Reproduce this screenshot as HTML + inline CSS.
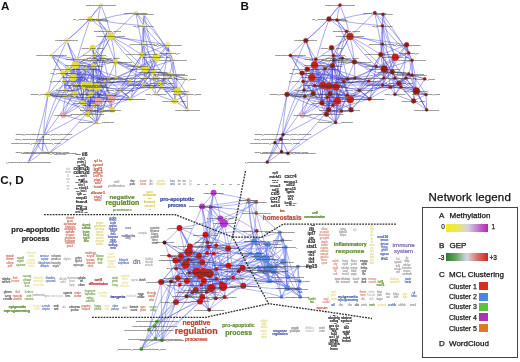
<!DOCTYPE html>
<html><head><meta charset="utf-8"><style>
html,body{margin:0;padding:0;background:#fff;}
body{width:520px;height:362px;position:relative;overflow:hidden;font-family:"Liberation Sans",sans-serif;}
#wrap{position:absolute;left:0;top:0;width:520px;height:362px;opacity:0.999}
div{line-height:1;white-space:nowrap;-webkit-text-stroke:0.25px currentColor}
svg text{font-family:"Liberation Sans",sans-serif;}
</style></head><body><div id="wrap">
<svg width="520" height="362" viewBox="0 0 520 362" style="position:absolute;left:0;top:0;will-change:transform">
<defs><path id="eb" d="M340.0,5.0Q333.6,11.3 329.0,19.0M340.0,5.0Q337.6,12.3 337.0,20.0M340.0,5.0Q346.9,20.1 350.0,36.4M340.0,5.0Q325.0,24.8 305.8,40.6M329.0,19.0Q333.0,19.9 337.0,20.0M329.0,19.0Q337.3,25.7 346.5,31.3M329.0,19.0Q355.6,23.7 382.5,25.8M329.0,19.0Q318.0,30.4 305.8,40.6M329.0,19.0Q321.1,41.8 314.5,65.0M337.0,20.0Q341.6,25.8 346.5,31.3M337.0,20.0Q343.3,28.3 350.0,36.4M337.0,20.0Q355.6,14.5 374.8,12.7M337.0,20.0Q346.1,40.8 354.4,61.9M346.5,31.3Q348.3,33.8 350.0,36.4M346.5,31.3Q339.2,43.0 333.5,55.5M346.5,31.3Q337.1,47.6 332.5,65.8M346.5,31.3Q337.8,58.4 336.0,86.9M350.0,36.4Q362.5,24.7 374.8,12.7M350.0,36.4Q333.1,48.1 315.8,59.2M350.0,36.4Q353.0,49.0 354.4,61.9M350.0,36.4Q343.5,49.4 333.8,60.3M350.0,36.4Q366.8,38.0 382.5,44.0M350.0,36.4Q378.3,40.3 406.6,44.8M350.0,36.4Q365.9,44.7 380.8,54.6M350.0,36.4Q367.7,52.1 384.3,69.0M350.0,36.4Q361.4,52.8 376.1,66.3M350.0,36.4Q336.3,60.7 323.0,85.2M374.8,12.7Q378.9,13.6 383.0,14.4M374.8,12.7Q379.1,19.0 382.5,25.8M374.8,12.7Q394.4,30.5 408.7,52.9M374.8,12.7Q380.9,40.6 384.3,69.0M383.0,14.4Q383.3,20.1 382.5,25.8M383.0,14.4Q395.8,33.7 408.7,52.9M383.0,14.4Q386.2,36.7 395.3,57.2M383.0,14.4Q380.9,34.4 380.8,54.6M382.5,25.8Q383.3,34.9 382.5,44.0M382.5,25.8Q394.1,40.8 408.7,52.9M382.5,25.8Q387.6,42.0 395.3,57.2M382.5,25.8Q382.0,47.5 384.3,69.0M382.5,25.8Q385.7,52.6 394.9,78.0M305.8,40.6Q297.6,47.4 290.4,55.4M305.8,40.6Q310.0,50.3 315.8,59.2M305.8,40.6Q310.6,52.6 314.5,65.0M305.8,40.6Q292.8,66.3 287.0,94.5M305.8,40.6Q314.4,68.8 329.9,93.8M290.4,55.4Q303.3,56.1 315.8,59.2M290.4,55.4Q298.3,62.9 307.2,69.3M290.4,55.4Q295.7,64.6 302.0,73.1M290.4,55.4Q311.5,60.4 332.5,65.8M290.4,55.4Q313.1,71.3 336.0,86.9M290.4,55.4Q301.9,74.5 313.3,93.7M331.5,47.7Q332.0,51.7 333.5,55.5M331.5,47.7Q336.9,53.0 342.3,58.2M331.5,47.7Q332.1,54.1 333.8,60.3M331.5,47.7Q334.6,67.2 336.0,86.9M331.5,47.7Q338.1,74.6 350.3,99.5M333.5,55.5Q323.5,59.2 314.5,65.0M333.5,55.5Q329.3,62.1 325.0,68.7M333.5,55.5Q337.9,56.9 342.3,58.2M333.5,55.5Q333.4,57.9 333.8,60.3M333.5,55.5Q358.5,63.8 384.3,69.0M333.5,55.5Q331.3,70.8 329.0,86.0M333.5,55.5Q337.2,78.2 337.3,101.1M333.5,55.5Q332.4,82.8 328.7,109.8M315.8,59.2Q315.0,62.1 314.5,65.0M315.8,59.2Q312.0,64.7 307.2,69.3M315.8,59.2Q312.9,68.1 312.0,77.5M315.8,59.2Q320.7,63.7 325.0,68.7M315.8,59.2Q323.8,63.5 332.5,65.8M315.8,59.2Q320.1,80.9 322.0,102.9M315.8,59.2Q321.4,83.2 332.8,105.1M314.5,65.0Q310.7,66.9 307.2,69.3M314.5,65.0Q308.2,69.0 302.0,73.1M314.5,65.0Q313.2,71.2 312.0,77.5M314.5,65.0Q319.7,67.1 325.0,68.7M314.5,65.0Q323.5,65.6 332.5,65.8M314.5,65.0Q328.2,60.9 342.3,58.2M314.5,65.0Q342.3,70.8 368.8,81.0M314.5,65.0Q329.1,73.4 343.7,81.7M314.5,65.0Q317.5,75.6 323.0,85.2M314.5,65.0Q308.8,77.4 304.0,90.1M314.5,65.0Q320.5,83.5 322.0,102.9M314.5,65.0Q330.7,89.0 351.0,109.8M314.5,65.0Q318.9,90.0 326.4,114.3M307.2,69.3Q304.4,70.9 302.0,73.1M307.2,69.3Q310.0,73.2 312.0,77.5M307.2,69.3Q316.1,69.6 325.0,68.7M307.2,69.3Q326.2,73.2 343.7,81.7M307.2,69.3Q317.7,78.1 329.0,86.0M307.2,69.3Q322.2,77.2 336.0,86.9M307.2,69.3Q298.1,82.7 287.0,94.5M307.2,69.3Q304.5,79.5 304.0,90.1M307.2,69.3Q319.9,80.3 329.9,93.8M302.0,73.1Q307.0,75.3 312.0,77.5M302.0,73.1Q302.2,77.3 303.2,81.3M302.0,73.1Q328.7,73.7 355.0,78.0M302.0,73.1Q325.0,74.1 347.5,78.8M302.0,73.1Q329.7,84.8 359.3,90.4M302.0,73.1Q315.6,79.3 329.0,86.0M302.0,73.1Q308.0,79.7 314.8,85.5M302.0,73.1Q304.1,81.5 304.0,90.1M312.0,77.5Q318.3,72.8 325.0,68.7M312.0,77.5Q329.8,76.5 347.5,78.8M312.0,77.5Q317.3,81.6 323.0,85.2M312.0,77.5Q313.9,81.3 314.8,85.5M312.0,77.5Q311.6,85.7 313.3,93.7M312.0,77.5Q309.6,87.4 304.7,96.3M312.0,77.5Q320.4,86.2 329.9,93.8M312.0,77.5Q330.8,84.0 347.2,95.2M312.0,77.5Q317.9,89.9 322.0,102.9M312.0,77.5Q325.3,95.6 341.5,111.1M303.2,81.3Q328.9,77.2 355.0,78.0M303.2,81.3Q309.2,82.9 314.8,85.5M303.2,81.3Q303.4,85.7 304.0,90.1M303.2,81.3Q316.4,95.1 328.7,109.8M303.2,81.3Q316.9,96.3 326.4,114.3M303.2,81.3Q289.4,106.6 283.0,134.6M325.0,68.7Q328.6,66.9 332.5,65.8M325.0,68.7Q333.0,62.3 342.3,58.2M325.0,68.7Q339.6,64.7 354.4,61.9M325.0,68.7Q329.5,64.6 333.8,60.3M325.0,68.7Q323.4,76.9 323.0,85.2M325.0,68.7Q331.5,77.2 336.0,86.9M325.0,68.7Q320.3,77.3 314.8,85.5M325.0,68.7Q307.7,84.1 287.0,94.5M325.0,68.7Q319.3,81.3 313.3,93.7M325.0,68.7Q322.2,85.7 322.0,102.9M332.5,65.8Q337.7,62.3 342.3,58.2M332.5,65.8Q333.5,63.1 333.8,60.3M332.5,65.8Q350.1,83.6 370.0,98.7M332.5,65.8Q339.3,73.1 347.5,78.8M332.5,65.8Q337.6,74.1 343.7,81.7M332.5,65.8Q327.8,75.5 323.0,85.2M332.5,65.8Q331.5,76.0 329.0,86.0M332.5,65.8Q323.2,75.3 314.8,85.5M332.5,65.8Q318.9,78.7 304.0,90.1M332.5,65.8Q333.1,88.0 328.7,109.8M332.5,65.8Q342.1,87.7 351.0,109.8M332.5,65.8Q331.1,94.3 335.6,122.4M342.3,58.2Q348.5,59.4 354.4,61.9M342.3,58.2Q338.0,59.1 333.8,60.3M342.3,58.2Q359.3,61.7 376.1,66.3M342.3,58.2Q344.9,68.5 347.5,78.8M342.3,58.2Q340.6,72.9 336.0,86.9M342.3,58.2Q337.0,79.3 337.3,101.1M354.4,61.9Q344.0,61.8 333.8,60.3M354.4,61.9Q369.2,65.9 384.3,69.0M354.4,61.9Q376.9,72.2 399.0,83.5M354.4,61.9Q374.2,72.1 390.5,87.2M354.4,61.9Q354.6,70.0 355.0,78.0M354.4,61.9Q345.8,84.6 332.8,105.1M333.8,60.3Q325.6,78.3 313.3,93.7M333.8,60.3Q344.6,78.8 350.3,99.5M333.8,60.3Q332.7,87.7 326.4,114.3M382.5,44.0Q398.2,50.5 412.0,60.3M382.5,44.0Q381.4,49.3 380.8,54.6M382.5,44.0Q386.5,65.6 390.5,87.2M382.5,44.0Q396.3,69.8 416.4,91.0M406.6,44.8Q407.2,49.0 408.7,52.9M406.6,44.8Q408.2,52.9 412.0,60.3M406.6,44.8Q401.4,51.4 395.3,57.2M406.6,44.8Q393.8,49.9 380.8,54.6M406.6,44.8Q405.3,66.0 401.0,86.9M406.6,44.8Q394.0,64.5 382.5,84.9M406.6,44.8Q410.7,68.1 416.4,91.0M408.7,52.9Q410.0,56.7 412.0,60.3M408.7,52.9Q401.9,54.7 395.3,57.2M408.7,52.9Q402.7,65.9 394.9,78.0M408.7,52.9Q382.1,66.0 355.0,78.0M412.0,60.3Q398.1,64.5 384.3,69.0M412.0,60.3Q411.3,67.3 408.7,73.9M412.0,60.3Q416.2,75.4 416.4,91.0M412.0,60.3Q413.3,80.6 413.6,101.0M395.3,57.2Q387.9,56.7 380.8,54.6M395.3,57.2Q393.3,64.5 392.3,72.0M395.3,57.2Q390.3,68.0 383.8,78.0M395.3,57.2Q383.4,70.6 368.8,81.0M395.3,57.2Q370.6,71.7 343.7,81.7M395.3,57.2Q383.7,79.1 369.0,99.0M380.8,54.6Q378.9,60.6 376.1,66.3M380.8,54.6Q386.5,63.3 392.3,72.0M380.8,54.6Q382.4,66.3 383.8,78.0M380.8,54.6Q390.7,68.6 399.0,83.5M380.8,54.6Q369.3,72.1 359.3,90.4M380.8,54.6Q367.4,78.3 350.3,99.5M384.3,69.0Q380.4,67.2 376.1,66.3M384.3,69.0Q388.1,71.0 392.3,72.0M384.3,69.0Q396.3,72.2 408.7,73.9M384.3,69.0Q384.1,73.5 383.8,78.0M384.3,69.0Q405.1,81.9 426.0,94.6M384.3,69.0Q398.6,85.3 413.6,101.0M384.3,69.0Q369.2,86.4 350.3,99.5M376.1,66.3Q373.4,82.6 370.0,98.7M392.3,72.0Q400.5,73.0 408.7,73.9M392.3,72.0Q408.8,74.0 424.7,78.8M392.3,72.0Q393.9,74.9 394.9,78.0M392.3,72.0Q392.7,83.3 395.0,94.3M392.3,72.0Q370.0,76.2 347.5,78.8M392.3,72.0Q364.1,79.3 336.0,86.9M392.3,72.0Q369.4,88.5 351.0,109.8M392.3,72.0Q380.2,85.1 369.0,99.0M408.7,73.9Q410.4,74.5 412.0,75.2M408.7,73.9Q407.1,75.8 406.0,78.0M408.7,73.9Q404.0,78.9 399.0,83.5M408.7,73.9Q400.5,81.8 390.5,87.2M408.7,73.9Q416.7,92.3 426.6,109.8M412.0,75.2Q409.2,76.9 406.0,78.0M412.0,75.2Q418.4,76.7 424.7,78.8M412.0,75.2Q405.1,78.7 399.0,83.5M412.0,75.2Q406.2,80.8 401.0,86.9M412.0,75.2Q420.3,84.0 426.0,94.6M406.0,78.0Q402.5,80.8 399.0,83.5M406.0,78.0Q398.4,82.8 390.5,87.2M406.0,78.0Q400.5,86.2 395.0,94.3M406.0,78.0Q417.6,93.1 426.6,109.8M406.0,78.0Q377.9,88.1 350.3,99.5M424.7,78.8Q421.3,85.4 416.4,91.0M383.8,78.0Q383.4,81.5 382.5,84.9M383.8,78.0Q371.8,84.6 359.3,90.4M383.8,78.0Q365.5,91.9 351.0,109.8M394.9,78.0Q397.3,80.5 399.0,83.5M394.9,78.0Q388.5,81.0 382.5,84.9M394.9,78.0Q406.2,83.6 416.4,91.0M394.9,78.0Q404.0,89.7 413.6,101.0M399.0,83.5Q400.1,85.2 401.0,86.9M399.0,83.5Q407.7,87.2 416.4,91.0M399.0,83.5Q383.4,90.2 369.0,99.0M401.0,86.9Q408.8,88.7 416.4,91.0M401.0,86.9Q398.4,90.9 395.0,94.3M382.5,84.9Q386.6,85.6 390.5,87.2M382.5,84.9Q399.8,86.0 416.4,91.0M382.5,84.9Q363.3,81.4 343.7,81.7M382.5,84.9Q355.7,84.4 329.0,86.0M390.5,87.2Q392.3,91.0 395.0,94.3M390.5,87.2Q367.2,83.2 343.7,81.7M390.5,87.2Q363.2,90.7 336.0,86.9M416.4,91.0Q421.1,93.0 426.0,94.6M416.4,91.0Q414.6,95.9 413.6,101.0M416.4,91.0Q420.9,100.7 426.6,109.8M426.0,94.6Q419.8,97.8 413.6,101.0M426.0,94.6Q426.6,102.2 426.6,109.8M426.0,94.6Q397.3,88.1 368.8,81.0M395.0,94.3Q404.0,98.4 413.6,101.0M413.6,101.0Q420.4,105.0 426.6,109.8M370.0,98.7Q364.7,94.5 359.3,90.4M370.0,98.7Q346.5,92.1 323.0,85.2M370.0,98.7Q350.3,93.7 329.9,93.8M370.0,98.7Q347.5,104.6 326.4,114.3M370.0,98.7Q369.5,98.8 369.0,99.0M355.0,78.0Q351.2,78.0 347.5,78.8M355.0,78.0Q362.0,79.1 368.8,81.0M355.0,78.0Q349.5,80.3 343.7,81.7M355.0,78.0Q346.2,89.6 337.3,101.1M347.5,78.8Q345.7,80.4 343.7,81.7M347.5,78.8Q335.3,82.2 323.0,85.2M347.5,78.8Q338.1,81.9 329.0,86.0M347.5,78.8Q341.3,82.2 336.0,86.9M368.8,81.0Q363.9,85.6 359.3,90.4M368.8,81.0Q348.7,81.7 329.0,86.0M368.8,81.0Q360.6,91.3 350.3,99.5M359.3,90.4Q348.5,96.2 337.3,101.1M359.3,90.4Q354.2,94.3 350.3,99.5M359.3,90.4Q364.6,94.2 369.0,99.0M343.7,81.7Q336.4,84.0 329.0,86.0M343.7,81.7Q340.2,84.8 336.0,86.9M343.7,81.7Q316.1,91.4 287.0,94.5M343.7,81.7Q339.4,91.0 337.3,101.1M343.7,81.7Q345.8,91.1 350.3,99.5M323.0,85.2Q326.0,85.7 329.0,86.0M323.0,85.2Q318.9,85.8 314.8,85.5M323.0,85.2Q318.4,89.7 313.3,93.7M323.0,85.2Q314.3,91.4 304.7,96.3M323.0,85.2Q326.2,89.7 329.9,93.8M323.0,85.2Q324.8,91.4 327.3,97.3M323.0,85.2Q330.3,93.0 337.3,101.1M323.0,85.2Q322.4,94.0 322.0,102.9M323.0,85.2Q327.2,97.2 328.7,109.8M329.0,86.0Q332.5,86.5 336.0,86.9M329.0,86.0Q329.0,90.0 329.9,93.8M329.0,86.0Q337.8,91.3 347.2,95.2M329.0,86.0Q326.5,94.8 322.0,102.9M329.0,86.0Q330.9,95.6 332.8,105.1M329.0,86.0Q314.8,99.8 302.3,115.2M336.0,86.9Q325.4,86.9 314.8,85.5M336.0,86.9Q332.6,90.0 329.9,93.8M336.0,86.9Q331.7,92.1 327.3,97.3M336.0,86.9Q341.4,91.4 347.2,95.2M336.0,86.9Q336.8,94.0 337.3,101.1M336.0,86.9Q342.3,94.2 350.3,99.5M336.0,86.9Q328.4,94.3 322.0,102.9M336.0,86.9Q334.2,96.0 332.8,105.1M336.0,86.9Q340.0,98.7 341.5,111.1M336.0,86.9Q331.4,100.7 326.4,114.3M336.0,86.9Q338.1,104.7 335.6,122.4M314.8,85.5Q309.3,87.7 304.0,90.1M314.8,85.5Q313.6,89.5 313.3,93.7M314.8,85.5Q333.2,90.9 350.3,99.5M314.8,85.5Q318.4,94.2 322.0,102.9M314.8,85.5Q308.6,100.4 302.3,115.2M287.0,94.5Q295.4,92.1 304.0,90.1M287.0,94.5Q295.8,95.9 304.7,96.3M287.0,94.5Q308.5,96.8 329.9,93.8M287.0,94.5Q312.0,99.2 337.3,101.1M287.0,94.5Q304.5,98.6 322.0,102.9M287.0,94.5Q306.9,104.8 328.7,109.8M287.0,94.5Q282.1,118.9 275.0,142.7M287.0,94.5Q282.3,122.9 281.5,151.7M304.0,90.1Q304.2,93.2 304.7,96.3M304.0,90.1Q326.8,96.5 350.3,99.5M304.0,90.1Q291.3,111.3 283.0,134.6M313.3,93.7Q309.1,95.3 304.7,96.3M313.3,93.7Q317.5,98.4 322.0,102.9M313.3,93.7Q297.7,116.9 280.8,139.2M304.7,96.3Q319.5,110.1 335.6,122.4M304.7,96.3Q302.2,105.6 302.3,115.2M329.9,93.8Q328.5,95.5 327.3,97.3M329.9,93.8Q338.6,93.3 347.2,95.2M329.9,93.8Q333.6,97.4 337.3,101.1M329.9,93.8Q339.9,97.3 350.3,99.5M329.9,93.8Q325.5,97.9 322.0,102.9M329.9,93.8Q329.0,101.8 328.7,109.8M329.9,93.8Q334.9,103.0 341.5,111.1M329.9,93.8Q329.5,104.3 326.4,114.3M327.3,97.3Q324.3,99.8 322.0,102.9M327.3,97.3Q327.6,103.6 328.7,109.8M327.3,97.3Q334.2,104.4 341.5,111.1M327.3,97.3Q325.9,105.7 326.4,114.3M327.3,97.3Q313.8,104.9 302.3,115.2M347.2,95.2Q342.6,98.7 337.3,101.1M347.2,95.2Q348.6,97.5 350.3,99.5M347.2,95.2Q343.8,102.9 341.5,111.1M347.2,95.2Q349.7,102.3 351.0,109.8M347.2,95.2Q336.1,104.0 326.4,114.3M347.2,95.2Q341.1,108.7 335.6,122.4M337.3,101.1Q329.7,102.7 322.0,102.9M337.3,101.1Q334.9,102.9 332.8,105.1M337.3,101.1Q333.4,105.9 328.7,109.8M337.3,101.1Q339.2,106.2 341.5,111.1M337.3,101.1Q344.2,105.3 351.0,109.8M337.3,101.1Q337.2,111.8 335.6,122.4M350.3,99.5Q341.5,102.1 332.8,105.1M350.3,99.5Q350.7,104.6 351.0,109.8M350.3,99.5Q359.6,98.5 369.0,99.0M322.0,102.9Q324.9,106.8 328.7,109.8M322.0,102.9Q332.2,105.8 341.5,111.1M322.0,102.9Q313.0,110.4 302.3,115.2M332.8,105.1Q330.8,107.5 328.7,109.8M332.8,105.1Q336.9,108.5 341.5,111.1M332.8,105.1Q329.4,109.6 326.4,114.3M328.7,109.8Q335.1,110.9 341.5,111.1M328.7,109.8Q327.6,112.1 326.4,114.3M328.7,109.8Q331.8,116.3 335.6,122.4M328.7,109.8Q306.4,123.3 283.0,134.6M328.7,109.8Q309.7,132.9 287.9,153.3M341.5,111.1Q346.3,110.5 351.0,109.8M341.5,111.1Q334.2,113.7 326.4,114.3M341.5,111.1Q339.2,117.1 335.6,122.4M326.4,114.3Q330.7,118.7 335.6,122.4M335.6,122.4Q318.6,120.3 302.3,115.2M335.6,122.4Q310.7,136.2 287.9,153.3M283.0,134.6Q281.7,136.8 280.8,139.2M283.0,134.6Q279.1,138.8 275.0,142.7M283.0,134.6Q281.8,143.1 281.5,151.7M283.0,134.6Q274.0,147.7 267.3,162.0M280.8,139.2Q277.7,140.7 275.0,142.7M280.8,139.2Q285.1,145.9 287.9,153.3M280.8,139.2Q275.1,151.2 267.3,162.0M275.0,142.7Q278.4,147.1 281.5,151.7M275.0,142.7Q271.2,152.4 267.3,162.0M281.5,151.7Q284.7,152.3 287.9,153.3M281.5,151.7Q275.1,157.8 267.3,162.0"/></defs>
<g fill="none" stroke="#4a4ad8" stroke-width="0.55" stroke-opacity="0.85"><use href="#eb"/><use href="#eb" transform="translate(-239,0)"/></g>
<g stroke-width="0.4"><circle cx="340.0" cy="5.0" r="1.58" fill="#901c12" stroke="#c03a26"/><circle cx="329.0" cy="19.0" r="2.46" fill="#901c12" stroke="#c03a26"/><circle cx="337.0" cy="20.0" r="1.58" fill="#901c12" stroke="#c03a26"/><circle cx="346.5" cy="31.3" r="1.58" fill="#901c12" stroke="#c03a26"/><circle cx="350.0" cy="36.4" r="3.52" fill="#c42418" stroke="#c03a26"/><circle cx="374.8" cy="12.7" r="1.58" fill="#901c12" stroke="#c03a26"/><circle cx="383.0" cy="14.4" r="1.58" fill="#901c12" stroke="#c03a26"/><circle cx="382.5" cy="25.8" r="1.58" fill="#901c12" stroke="#c03a26"/><circle cx="305.8" cy="40.6" r="2.46" fill="#901c12" stroke="#c03a26"/><circle cx="290.4" cy="55.4" r="1.58" fill="#901c12" stroke="#c03a26"/><circle cx="331.5" cy="47.7" r="2.46" fill="#901c12" stroke="#c03a26"/><circle cx="333.5" cy="55.5" r="1.58" fill="#901c12" stroke="#c03a26"/><circle cx="315.8" cy="59.2" r="1.58" fill="#901c12" stroke="#c03a26"/><circle cx="314.5" cy="65.0" r="3.52" fill="#c42418" stroke="#c03a26"/><circle cx="307.2" cy="69.3" r="2.46" fill="#901c12" stroke="#c03a26"/><circle cx="302.0" cy="73.1" r="2.46" fill="#901c12" stroke="#c03a26"/><circle cx="312.0" cy="77.5" r="3.52" fill="#c42418" stroke="#c03a26"/><circle cx="303.2" cy="81.3" r="1.58" fill="#901c12" stroke="#c03a26"/><circle cx="325.0" cy="68.7" r="1.58" fill="#901c12" stroke="#c03a26"/><circle cx="332.5" cy="65.8" r="2.46" fill="#901c12" stroke="#c03a26"/><circle cx="342.3" cy="58.2" r="1.58" fill="#901c12" stroke="#c03a26"/><circle cx="354.4" cy="61.9" r="2.46" fill="#901c12" stroke="#c03a26"/><circle cx="333.8" cy="60.3" r="1.58" fill="#901c12" stroke="#c03a26"/><circle cx="382.5" cy="44.0" r="1.58" fill="#901c12" stroke="#c03a26"/><circle cx="406.6" cy="44.8" r="2.46" fill="#901c12" stroke="#c03a26"/><circle cx="408.7" cy="52.9" r="1.58" fill="#901c12" stroke="#c03a26"/><circle cx="412.0" cy="60.3" r="1.58" fill="#901c12" stroke="#c03a26"/><circle cx="395.3" cy="57.2" r="3.52" fill="#c42418" stroke="#c03a26"/><circle cx="380.8" cy="54.6" r="2.46" fill="#901c12" stroke="#c03a26"/><circle cx="384.3" cy="69.0" r="3.52" fill="#901c12" stroke="#c03a26"/><circle cx="376.1" cy="66.3" r="1.58" fill="#901c12" stroke="#c03a26"/><circle cx="392.3" cy="72.0" r="2.46" fill="#901c12" stroke="#c03a26"/><circle cx="408.7" cy="73.9" r="1.58" fill="#901c12" stroke="#c03a26"/><circle cx="412.0" cy="75.2" r="1.58" fill="#901c12" stroke="#c03a26"/><circle cx="406.0" cy="78.0" r="1.58" fill="#901c12" stroke="#c03a26"/><circle cx="424.7" cy="78.8" r="1.58" fill="#901c12" stroke="#c03a26"/><circle cx="383.8" cy="78.0" r="1.58" fill="#901c12" stroke="#c03a26"/><circle cx="394.9" cy="78.0" r="1.58" fill="#901c12" stroke="#c03a26"/><circle cx="399.0" cy="83.5" r="2.46" fill="#901c12" stroke="#c03a26"/><circle cx="401.0" cy="86.9" r="1.58" fill="#901c12" stroke="#c03a26"/><circle cx="382.5" cy="84.9" r="1.58" fill="#901c12" stroke="#c03a26"/><circle cx="390.5" cy="87.2" r="1.58" fill="#901c12" stroke="#c03a26"/><circle cx="416.4" cy="91.0" r="3.52" fill="#901c12" stroke="#c03a26"/><circle cx="426.0" cy="94.6" r="1.58" fill="#901c12" stroke="#c03a26"/><circle cx="395.0" cy="94.3" r="1.58" fill="#901c12" stroke="#c03a26"/><circle cx="413.6" cy="101.0" r="2.46" fill="#901c12" stroke="#c03a26"/><circle cx="426.6" cy="109.8" r="1.58" fill="#901c12" stroke="#c03a26"/><circle cx="370.0" cy="98.7" r="1.58" fill="#901c12" stroke="#c03a26"/><circle cx="355.0" cy="78.0" r="1.58" fill="#901c12" stroke="#c03a26"/><circle cx="347.5" cy="78.8" r="1.58" fill="#901c12" stroke="#c03a26"/><circle cx="368.8" cy="81.0" r="1.58" fill="#901c12" stroke="#c03a26"/><circle cx="359.3" cy="90.4" r="1.58" fill="#901c12" stroke="#c03a26"/><circle cx="343.7" cy="81.7" r="1.58" fill="#901c12" stroke="#c03a26"/><circle cx="323.0" cy="85.2" r="3.52" fill="#c42418" stroke="#c03a26"/><circle cx="329.0" cy="86.0" r="3.52" fill="#c42418" stroke="#c03a26"/><circle cx="336.0" cy="86.9" r="3.52" fill="#c42418" stroke="#c03a26"/><circle cx="314.8" cy="85.5" r="1.58" fill="#901c12" stroke="#c03a26"/><circle cx="287.0" cy="94.5" r="2.46" fill="#901c12" stroke="#c03a26"/><circle cx="304.0" cy="90.1" r="1.58" fill="#901c12" stroke="#c03a26"/><circle cx="313.3" cy="93.7" r="2.46" fill="#901c12" stroke="#c03a26"/><circle cx="304.7" cy="96.3" r="1.58" fill="#901c12" stroke="#c03a26"/><circle cx="329.9" cy="93.8" r="2.46" fill="#901c12" stroke="#c03a26"/><circle cx="327.3" cy="97.3" r="1.58" fill="#901c12" stroke="#c03a26"/><circle cx="347.2" cy="95.2" r="1.58" fill="#901c12" stroke="#c03a26"/><circle cx="337.3" cy="101.1" r="3.52" fill="#c42418" stroke="#c03a26"/><circle cx="350.3" cy="99.5" r="3.52" fill="#c42418" stroke="#c03a26"/><circle cx="322.0" cy="102.9" r="2.46" fill="#901c12" stroke="#c03a26"/><circle cx="332.8" cy="105.1" r="1.58" fill="#901c12" stroke="#c03a26"/><circle cx="328.7" cy="109.8" r="2.46" fill="#901c12" stroke="#c03a26"/><circle cx="341.5" cy="111.1" r="1.58" fill="#901c12" stroke="#c03a26"/><circle cx="351.0" cy="109.8" r="2.46" fill="#901c12" stroke="#c03a26"/><circle cx="326.4" cy="114.3" r="2.46" fill="#901c12" stroke="#c03a26"/><circle cx="335.6" cy="122.4" r="1.58" fill="#901c12" stroke="#c03a26"/><circle cx="369.0" cy="99.0" r="1.58" fill="#901c12" stroke="#c03a26"/><circle cx="302.3" cy="115.2" r="2.46" fill="#e8b4b0" stroke="#d06060"/><circle cx="283.0" cy="134.6" r="1.58" fill="#5a1c14" stroke="#c03a26"/><circle cx="280.8" cy="139.2" r="1.58" fill="#5a1c14" stroke="#c03a26"/><circle cx="275.0" cy="142.7" r="1.58" fill="#5a1c14" stroke="#c03a26"/><circle cx="281.5" cy="151.7" r="1.58" fill="#5a1c14" stroke="#c03a26"/><circle cx="287.9" cy="153.3" r="1.58" fill="#5a1c14" stroke="#c03a26"/><circle cx="267.3" cy="162.0" r="1.58" fill="#5a1c14" stroke="#c03a26"/></g><g stroke-width="0.4" fill-opacity="0.95"><circle cx="101.0" cy="5.0" r="1.66" fill="#ecea9c" stroke="#e0dc80"/><circle cx="90.0" cy="19.0" r="2.58" fill="#e6e030" stroke="#d8cc40"/><circle cx="98.0" cy="20.0" r="1.66" fill="#e6e030" stroke="#d8cc40"/><circle cx="107.5" cy="31.3" r="1.66" fill="#ecea9c" stroke="#e0dc80"/><circle cx="111.0" cy="36.4" r="3.68" fill="#e6e030" stroke="#d8cc40"/><circle cx="135.8" cy="12.7" r="1.66" fill="#ecea9c" stroke="#e0dc80"/><circle cx="144.0" cy="14.4" r="1.66" fill="#ecea9c" stroke="#e0dc80"/><circle cx="143.5" cy="25.8" r="1.66" fill="#ecea9c" stroke="#e0dc80"/><circle cx="66.8" cy="40.6" r="2.58" fill="#ecea9c" stroke="#e0dc80"/><circle cx="51.4" cy="55.4" r="1.66" fill="#ecea9c" stroke="#e0dc80"/><circle cx="92.5" cy="47.7" r="2.58" fill="#e6e030" stroke="#d8cc40"/><circle cx="94.5" cy="55.5" r="1.66" fill="#e6e030" stroke="#d8cc40"/><circle cx="76.8" cy="59.2" r="1.66" fill="#ecea9c" stroke="#e0dc80"/><circle cx="75.5" cy="65.0" r="3.68" fill="#e6e030" stroke="#d8cc40"/><circle cx="68.2" cy="69.3" r="2.58" fill="#e6e030" stroke="#d8cc40"/><circle cx="63.0" cy="73.1" r="2.58" fill="#e6e030" stroke="#d8cc40"/><circle cx="73.0" cy="77.5" r="3.68" fill="#e6e030" stroke="#d8cc40"/><circle cx="64.2" cy="81.3" r="1.66" fill="#e6e030" stroke="#d8cc40"/><circle cx="86.0" cy="68.7" r="1.66" fill="#e6e030" stroke="#d8cc40"/><circle cx="93.5" cy="65.8" r="2.58" fill="#e6e030" stroke="#d8cc40"/><circle cx="103.3" cy="58.2" r="1.66" fill="#e6e030" stroke="#d8cc40"/><circle cx="115.4" cy="61.9" r="2.58" fill="#e6e030" stroke="#d8cc40"/><circle cx="94.8" cy="60.3" r="1.66" fill="#e6e030" stroke="#d8cc40"/><circle cx="143.5" cy="44.0" r="1.66" fill="#ecea9c" stroke="#e0dc80"/><circle cx="167.6" cy="44.8" r="2.58" fill="#ecea9c" stroke="#e0dc80"/><circle cx="169.7" cy="52.9" r="1.66" fill="#ecea9c" stroke="#e0dc80"/><circle cx="173.0" cy="60.3" r="1.66" fill="#ecea9c" stroke="#e0dc80"/><circle cx="156.3" cy="57.2" r="3.68" fill="#e6e030" stroke="#d8cc40"/><circle cx="141.8" cy="54.6" r="2.58" fill="#e6e030" stroke="#d8cc40"/><circle cx="145.3" cy="69.0" r="3.68" fill="#e6e030" stroke="#d8cc40"/><circle cx="137.1" cy="66.3" r="1.66" fill="#e6e030" stroke="#d8cc40"/><circle cx="153.3" cy="72.0" r="2.58" fill="#e6e030" stroke="#d8cc40"/><circle cx="169.7" cy="73.9" r="1.66" fill="#e6e030" stroke="#d8cc40"/><circle cx="173.0" cy="75.2" r="1.66" fill="#ecea9c" stroke="#e0dc80"/><circle cx="167.0" cy="78.0" r="1.66" fill="#ecea9c" stroke="#e0dc80"/><circle cx="185.7" cy="78.8" r="1.66" fill="#ecea9c" stroke="#e0dc80"/><circle cx="144.8" cy="78.0" r="1.66" fill="#e6e030" stroke="#d8cc40"/><circle cx="155.9" cy="78.0" r="1.66" fill="#e6e030" stroke="#d8cc40"/><circle cx="160.0" cy="83.5" r="2.58" fill="#e6e030" stroke="#d8cc40"/><circle cx="162.0" cy="86.9" r="1.66" fill="#e6e030" stroke="#d8cc40"/><circle cx="143.5" cy="84.9" r="1.66" fill="#e6e030" stroke="#d8cc40"/><circle cx="151.5" cy="87.2" r="1.66" fill="#e6e030" stroke="#d8cc40"/><circle cx="177.4" cy="91.0" r="3.68" fill="#e6e030" stroke="#d8cc40"/><circle cx="187.0" cy="94.6" r="1.66" fill="#ecea9c" stroke="#e0dc80"/><circle cx="156.0" cy="94.3" r="1.66" fill="#ecea9c" stroke="#e0dc80"/><circle cx="174.6" cy="101.0" r="2.58" fill="#e6e030" stroke="#d8cc40"/><circle cx="187.6" cy="109.8" r="1.66" fill="#ecea9c" stroke="#e0dc80"/><circle cx="131.0" cy="98.7" r="1.66" fill="#ecea9c" stroke="#e0dc80"/><circle cx="116.0" cy="78.0" r="1.66" fill="#e6e030" stroke="#d8cc40"/><circle cx="108.5" cy="78.8" r="1.66" fill="#e6e030" stroke="#d8cc40"/><circle cx="129.8" cy="81.0" r="1.66" fill="#e6e030" stroke="#d8cc40"/><circle cx="120.3" cy="90.4" r="1.66" fill="#e6e030" stroke="#d8cc40"/><circle cx="104.7" cy="81.7" r="1.66" fill="#e6e030" stroke="#d8cc40"/><circle cx="84.0" cy="85.2" r="3.68" fill="#e6e030" stroke="#d8cc40"/><circle cx="90.0" cy="86.0" r="3.68" fill="#e6e030" stroke="#d8cc40"/><circle cx="97.0" cy="86.9" r="3.68" fill="#e6e030" stroke="#d8cc40"/><circle cx="75.8" cy="85.5" r="1.66" fill="#e6e030" stroke="#d8cc40"/><circle cx="48.0" cy="94.5" r="2.58" fill="#e6e030" stroke="#d8cc40"/><circle cx="65.0" cy="90.1" r="1.66" fill="#e6e030" stroke="#d8cc40"/><circle cx="74.3" cy="93.7" r="2.58" fill="#e6e030" stroke="#d8cc40"/><circle cx="65.7" cy="96.3" r="1.66" fill="#e6e030" stroke="#d8cc40"/><circle cx="90.9" cy="93.8" r="2.58" fill="#e6e030" stroke="#d8cc40"/><circle cx="88.3" cy="97.3" r="1.66" fill="#e6e030" stroke="#d8cc40"/><circle cx="108.2" cy="95.2" r="1.66" fill="#e6e030" stroke="#d8cc40"/><circle cx="98.3" cy="101.1" r="3.68" fill="#eaa8a0" stroke="#e09090"/><circle cx="111.3" cy="99.5" r="3.68" fill="#eaa8a0" stroke="#e09090"/><circle cx="83.0" cy="102.9" r="2.58" fill="#e6e030" stroke="#d8cc40"/><circle cx="93.8" cy="105.1" r="1.66" fill="#e6e030" stroke="#d8cc40"/><circle cx="89.7" cy="109.8" r="2.58" fill="#eaa8a0" stroke="#e09090"/><circle cx="102.5" cy="111.1" r="1.66" fill="#e6e030" stroke="#d8cc40"/><circle cx="112.0" cy="109.8" r="2.58" fill="#e6e030" stroke="#d8cc40"/><circle cx="87.4" cy="114.3" r="2.58" fill="#e6e030" stroke="#d8cc40"/><circle cx="96.6" cy="122.4" r="1.66" fill="#e6e030" stroke="#d8cc40"/><circle cx="130.0" cy="99.0" r="1.66" fill="#e6e030" stroke="#d8cc40"/><circle cx="63.3" cy="115.2" r="2.58" fill="#eaa8a0" stroke="#e09090"/><circle cx="44.0" cy="134.6" r="1.24" fill="#ecea9c" stroke="#e0dc80"/><circle cx="41.8" cy="139.2" r="1.24" fill="#ecea9c" stroke="#e0dc80"/><circle cx="36.0" cy="142.7" r="1.24" fill="#ecea9c" stroke="#e0dc80"/><circle cx="42.5" cy="151.7" r="1.24" fill="#ecea9c" stroke="#e0dc80"/><circle cx="48.9" cy="153.3" r="1.24" fill="#ecea9c" stroke="#e0dc80"/><circle cx="28.3" cy="162.0" r="1.24" fill="#ecea9c" stroke="#e0dc80"/></g>
<g fill="#333" stroke="#333" stroke-width="0.22" font-size="2.5" text-anchor="middle" opacity="0.6" id="lb"><text x="340.0" y="5.8">imsaphbfdmrhntduhagoifnf</text><text x="329.0" y="19.8">ce__peeaaggffklgtgfgnkamofe</text><text x="337.0" y="20.8">clk_ua_lckmkrlfrrfb</text><text x="346.5" y="32.1">amnatomnuapbf_gdhpm</text><text x="350.0" y="37.2">msipdumkbocgls_melitckl</text><text x="374.8" y="13.5">fcekrfbc_tnbh_mipoe</text><text x="383.0" y="15.2">brlgeueodfomebo</text><text x="382.5" y="26.6">ep_fsprlrikrnedntfr</text><text x="305.8" y="41.4">fcristsmcmubkmtirikl</text><text x="290.4" y="56.2">fuartilipksmmimomfpmlsesf</text><text x="331.5" y="48.5">mrkcof_usok_tiagfu</text><text x="333.5" y="56.3">_fhfbrhfbedlfrgtbopmn_</text><text x="315.8" y="60.0">ughmamniodtmbt_k</text><text x="314.5" y="65.8">ktslukmeooutmpef</text><text x="307.2" y="70.1">nurge_cmandlu_telunoohrk</text><text x="302.0" y="73.9">nnf__ikrioalkrkerad_ph</text><text x="312.0" y="78.3">benarttihrbhriekkr_</text><text x="303.2" y="82.1">s_daekktl_ksapmmuebait</text><text x="325.0" y="69.5">dtgaoo_urnrngkpckaoukr</text><text x="332.5" y="66.6">efrtrlteoutbchiccal</text><text x="342.3" y="59.0">ocnrbddh_dekpef_fofc_gbtdn</text><text x="354.4" y="62.7">cibuudn_eaocl_rrmmbekeuskt</text><text x="333.8" y="61.1">_hicthiksehmpnfealcubcd</text><text x="382.5" y="44.8">_phnprldsatnbeohdcrge_n</text><text x="406.6" y="45.6">hkl_mnnemkomsbuugfnc</text><text x="408.7" y="53.7">bbfggbrrmaork_ol</text><text x="412.0" y="61.1">pdgefcmnretidifkhbrbmm</text><text x="395.3" y="58.0">bapredlkphfbgauhc_nm</text><text x="380.8" y="55.4">kfpmkcpfhfgb_oiapbpofbbts</text><text x="384.3" y="69.8">mdchrcrbhbrnbbiopkbbgfsn</text><text x="376.1" y="67.1">thcldctf_cg_aptmro</text><text x="392.3" y="72.8">nseakphtdekrcinleetcrhco</text><text x="408.7" y="74.7">hibrhbgkmdcolntakeuapeab</text><text x="412.0" y="76.0">oidntelckfeirlkbcttaadbemo</text><text x="406.0" y="78.8">_ahsoemglmafu_fdis_</text><text x="424.7" y="79.6">epoodllphp_ofpbft</text><text x="383.8" y="78.8">r_adeobgabuhrmnpggigkt</text><text x="394.9" y="78.8">mhmmhb_rnmeehrnbdfndkgl</text><text x="399.0" y="84.3">rt_cgnads_u_fnala_ksns</text><text x="401.0" y="87.7">tnputbteomuasgkkcacm_u</text><text x="382.5" y="85.7">okaihcbckm__tgrscdhltonannf</text><text x="390.5" y="88.0">sg_lnldtmhdgkki_cfcofhcuuto</text><text x="416.4" y="91.8">hors_hkoic_lfoaedkut_</text><text x="426.0" y="95.4">fogl_dlcbresclgpnh_rdagf</text><text x="395.0" y="95.1">clem_duplftudmdc</text><text x="413.6" y="101.8">glmfpchntpnad_mear</text><text x="426.6" y="110.6">lcrkadrmglnekrcudkolc</text><text x="370.0" y="99.5">obhohiceidtroftnhcpmeca</text><text x="355.0" y="78.8">emaaitpnscbggparsci_rsabfns</text><text x="347.5" y="79.6">u_ubgaooonaflekgocmgn</text><text x="368.8" y="81.8">giermkadfpccnboegarl_</text><text x="359.3" y="91.2">ephcm_aafociemlgekstck</text><text x="343.7" y="82.5">dnmkmrtuphueiata</text><text x="323.0" y="86.0">nehrbaagohs_hkbshbnmatkppd</text><text x="329.0" y="86.8">dmusiu_nnkfucpbgs_ndsktmo</text><text x="336.0" y="87.7">pmcrauugupbbcdlem</text><text x="314.8" y="86.3">iirediiainfhiupf_eub</text><text x="287.0" y="95.3">mtdapb_rbauodos_p_uhtdcucb</text><text x="304.0" y="90.9">pkstcidnkipkkals</text><text x="313.3" y="94.5">rpnegil_gpcemcop_snfgerfs</text><text x="304.7" y="97.1">umaeoiurstgthfotilk_dg</text><text x="329.9" y="94.6">omsircddlddkufbtnfl</text><text x="327.3" y="98.1">idoldkckloocckcfbdsodpocho</text><text x="347.2" y="96.0">utkdslmcpndfhd_</text><text x="337.3" y="101.9">dctnodiktpobgsenfglscek</text><text x="350.3" y="100.3">pkptusikfiprn_d</text><text x="322.0" y="103.7">_gpdphehfcpi_pfrd</text><text x="332.8" y="105.9">uimbttdgaluurrs_k_l</text><text x="328.7" y="110.6">kesokomekgbarfk</text><text x="341.5" y="111.9">kouplssl_afuratrpmbht</text><text x="351.0" y="110.6">rdgffshndnohiag</text><text x="326.4" y="115.1">hucsmoukhdmt_tpbisaeobpag</text><text x="335.6" y="123.2">gdfpprrksca__p____gapsgclgd</text><text x="369.0" y="99.8">mcfhnabobkgnnfdnggenpeo</text><text x="302.3" y="116.0">ipsgichootpgglu</text><text x="283.0" y="135.4">bgtfmd_omekfateodatplcremab_mriupl_tofnotpahrk</text><text x="280.8" y="140.0">ctrhc_ldcloflmbkdsccbrsrgpkeoi_pucshkcukcnko</text><text x="275.0" y="143.5">moclgmdpldrlbpb_hkkipssmsscsupog_nodec</text><text x="281.5" y="152.5">bkmo_udfapekbudubcckkkohbopkflssunp_pbfmr</text><text x="287.9" y="154.1">cdpimldnnpieetpmiffoanlig_eo_spdknbggnhrusadt</text><text x="267.3" y="162.8">ll_mfabgrbirsgbhllhmpabdgdkdhcdumliof</text></g>
<use href="#lb" transform="translate(-239,0)"/>
<path d="M179.5,228.0Q172.5,235.8 164.5,242.5M179.5,228.0Q185.8,236.6 190.0,246.4M179.5,228.0Q198.2,236.2 216.3,245.4M179.5,228.0Q184.3,246.0 185.6,264.6M179.5,228.0Q190.7,248.9 196.5,271.9M179.5,228.0Q192.1,249.8 203.5,272.3M179.5,228.0Q191.9,252.7 209.6,273.8M179.5,228.0Q200.3,225.0 220.4,218.5M164.5,242.5Q176.1,248.1 188.5,252.0M164.5,242.5Q185.2,255.9 203.5,272.3M164.5,242.5Q186.9,258.4 209.6,273.8M164.5,242.5Q167.2,248.9 169.0,255.6M205.4,234.7Q206.9,238.4 207.6,242.4M205.4,234.7Q217.6,240.3 228.2,248.5M205.4,234.7Q194.1,246.3 181.0,256.0M205.4,234.7Q198.7,252.8 196.5,271.9M205.4,234.7Q211.9,261.5 223.1,286.7M205.4,234.7Q198.2,261.9 195.8,290.0M205.4,234.7Q206.5,240.9 208.7,246.8M205.4,234.7Q207.7,213.3 213.6,192.7M205.4,234.7Q230.9,231.4 256.7,230.8M205.4,234.7Q231.4,246.3 258.2,256.0M207.6,242.4Q217.7,246.1 228.2,248.5M207.6,242.4Q208.9,270.8 215.8,298.3M207.6,242.4Q207.9,244.7 208.7,246.8M207.6,242.4Q200.2,270.6 186.5,296.3M207.6,242.4Q211.3,217.6 213.6,192.7M207.6,242.4Q205.7,224.3 202.1,206.4M190.0,246.4Q203.2,245.9 216.3,245.4M190.0,246.4Q185.9,251.6 181.0,256.0M190.0,246.4Q189.3,249.2 188.5,252.0M190.0,246.4Q195.1,250.7 199.0,256.0M190.0,246.4Q195.2,260.2 203.5,272.3M190.0,246.4Q182.3,261.6 177.9,278.1M190.0,246.4Q200.3,267.4 211.2,288.1M190.0,246.4Q207.7,265.6 223.1,286.7M190.0,246.4Q199.9,273.8 215.8,298.3M190.0,246.4Q180.1,263.8 171.0,281.5M190.0,246.4Q201.6,264.0 216.7,278.8M190.0,246.4Q208.0,236.4 223.8,223.2M216.3,245.4Q222.2,247.0 228.2,248.5M216.3,245.4Q196.0,253.4 175.4,260.4M216.3,245.4Q209.1,253.7 202.3,262.3M216.3,245.4Q206.7,258.8 196.5,271.9M216.3,245.4Q221.7,265.7 223.1,286.7M216.3,245.4Q212.8,268.9 206.7,291.9M216.3,245.4Q213.7,271.8 215.8,298.3M216.3,245.4Q212.6,246.6 208.7,246.8M216.3,245.4Q215.5,249.7 213.6,253.6M216.3,245.4Q214.1,226.1 210.5,207.0M216.3,245.4Q235.2,242.2 254.3,241.4M228.2,248.5Q202.0,258.2 176.0,268.5M228.2,248.5Q212.4,260.3 196.5,271.9M228.2,248.5Q216.4,260.9 203.5,272.3M228.2,248.5Q216.9,267.1 211.2,288.1M228.2,248.5Q228.5,272.9 224.6,296.9M228.2,248.5Q221.0,251.2 213.6,253.6M228.2,248.5Q236.3,223.3 248.5,199.8M228.2,248.5Q242.8,240.2 256.7,230.8M228.2,248.5Q253.5,238.8 279.9,232.4M228.2,248.5Q255.1,243.2 282.4,240.1M228.2,248.5Q257.0,249.8 285.7,247.2M181.0,256.0Q178.3,258.3 175.4,260.4M181.0,256.0Q192.1,264.3 203.5,272.3M181.0,256.0Q184.3,264.8 189.4,272.7M181.0,256.0Q191.8,265.2 200.4,276.5M181.0,256.0Q172.7,270.2 161.2,281.9M181.0,256.0Q180.3,267.2 177.9,278.1M181.0,256.0Q194.9,273.2 211.2,288.1M181.0,256.0Q201.6,272.0 223.1,286.7M181.0,256.0Q207.8,264.9 233.1,277.7M181.0,256.0Q180.0,258.4 178.8,260.6M181.0,256.0Q210.6,260.9 238.8,271.0M181.0,256.0Q191.3,231.1 202.1,206.4M181.0,256.0Q200.3,236.9 223.8,223.2M188.5,252.0Q192.0,262.2 196.5,271.9M188.5,252.0Q207.7,261.0 228.5,265.6M188.5,252.0Q214.5,263.4 242.5,268.0M188.5,252.0Q173.9,266.1 161.2,281.9M188.5,252.0Q182.0,267.8 179.8,284.8M188.5,252.0Q208.1,267.0 223.1,286.7M188.5,252.0Q196.7,274.0 202.3,296.9M188.5,252.0Q188.0,255.7 188.4,259.5M207.0,253.0Q202.9,254.2 199.0,256.0M207.0,253.0Q198.4,263.1 189.4,272.7M207.0,253.0Q188.5,275.6 176.0,302.1M207.0,253.0Q208.0,249.9 208.7,246.8M207.0,253.0Q210.3,253.6 213.6,253.6M207.0,253.0Q203.2,229.8 202.1,206.4M207.0,253.0Q206.8,229.8 210.5,207.0M207.0,253.0Q215.2,238.0 223.8,223.2M207.0,253.0Q233.4,257.4 258.3,267.0M199.0,256.0Q192.4,260.5 185.6,264.6M199.0,256.0Q186.7,260.8 176.0,268.5M199.0,256.0Q200.8,259.1 202.3,262.3M199.0,256.0Q198.8,264.1 196.5,271.9M199.0,256.0Q202.3,263.9 203.5,272.3M199.0,256.0Q205.1,264.4 209.6,273.8M199.0,256.0Q188.3,269.6 179.8,284.8M199.0,256.0Q201.9,268.4 203.8,281.0M199.0,256.0Q203.9,273.7 206.7,291.9M199.0,256.0Q209.8,276.2 215.8,298.3M175.4,260.4Q175.2,264.5 176.0,268.5M175.4,260.4Q189.6,266.1 203.5,272.3M175.4,260.4Q188.6,267.4 200.4,276.5M175.4,260.4Q177.7,269.1 177.9,278.1M175.4,260.4Q190.0,271.0 201.5,284.8M175.4,260.4Q200.5,271.3 223.1,286.7M175.4,260.4Q184.9,275.7 195.8,290.0M175.4,260.4Q189.7,279.7 200.0,301.5M175.4,260.4Q171.9,258.4 169.0,255.6M175.4,260.4Q177.1,260.5 178.8,260.6M185.6,264.6Q194.8,267.8 203.5,272.3M185.6,264.6Q192.2,271.6 200.4,276.5M185.6,264.6Q195.6,271.8 203.8,281.0M185.6,264.6Q209.3,271.3 233.1,277.7M185.6,264.6Q189.7,277.7 195.8,290.0M185.6,264.6Q198.0,286.9 209.2,309.8M185.6,264.6Q198.4,257.3 208.7,246.8M185.6,264.6Q187.0,262.0 188.4,259.5M185.6,264.6Q182.1,262.8 178.8,260.6M185.6,264.6Q202.4,241.1 220.4,218.5M185.6,264.6Q202.0,241.4 223.8,223.2M176.0,268.5Q189.8,270.1 203.5,272.3M176.0,268.5Q193.0,270.0 209.6,273.8M176.0,268.5Q193.5,259.4 208.7,246.8M176.0,268.5Q177.8,264.7 178.8,260.6M176.0,268.5Q184.2,280.4 192.3,292.4M202.3,262.3Q200.0,267.5 196.5,271.9M202.3,262.3Q203.2,267.3 203.5,272.3M202.3,262.3Q215.5,263.0 228.5,265.6M202.3,262.3Q182.6,273.8 161.2,281.9M202.3,262.3Q213.6,273.7 223.1,286.7M202.3,262.3Q221.6,276.2 243.3,285.8M202.3,262.3Q185.3,260.6 169.0,255.6M202.3,262.3Q190.4,262.9 178.8,260.6M202.3,262.3Q192.4,278.4 186.5,296.3M202.3,262.3Q228.9,252.3 255.1,241.3M196.5,271.9Q200.0,272.6 203.5,272.3M196.5,271.9Q193.0,272.4 189.4,272.7M196.5,271.9Q198.2,274.4 200.4,276.5M196.5,271.9Q219.6,270.9 242.5,268.0M196.5,271.9Q178.4,275.5 161.2,281.9M196.5,271.9Q208.5,278.2 221.2,282.9M196.5,271.9Q214.8,274.8 233.1,277.7M196.5,271.9Q200.8,284.1 202.3,296.9M196.5,271.9Q187.5,287.8 176.0,302.1M196.5,271.9Q206.2,276.4 216.7,278.8M196.5,271.9Q190.1,283.5 186.5,296.3M196.5,271.9Q211.6,246.6 220.4,218.5M196.5,271.9Q209.0,246.9 223.8,223.2M203.5,272.3Q206.5,273.2 209.6,273.8M203.5,272.3Q201.8,274.3 200.4,276.5M203.5,272.3Q195.0,276.3 186.9,281.0M203.5,272.3Q211.9,278.4 221.2,282.9M203.5,272.3Q205.0,282.1 206.7,291.9M203.5,272.3Q202.4,284.6 202.3,296.9M203.5,272.3Q191.5,265.8 178.8,260.6M203.5,272.3Q227.9,255.2 254.3,241.4M203.5,272.3Q228.1,265.7 250.5,253.6M209.6,273.8Q204.8,274.6 200.4,276.5M209.6,273.8Q212.7,270.9 216.3,268.8M209.6,273.8Q226.4,273.1 242.5,268.0M209.6,273.8Q193.5,273.9 177.9,278.1M209.6,273.8Q198.1,276.9 186.9,281.0M209.6,273.8Q217.2,279.4 223.1,286.7M209.6,273.8Q199.8,265.5 188.4,259.5M209.6,273.8Q213.4,275.9 216.7,278.8M209.6,273.8Q199.7,282.0 192.3,292.4M209.6,273.8Q230.5,264.7 250.5,253.6M209.6,273.8Q232.8,261.9 258.2,256.0M209.6,273.8Q230.8,255.4 255.1,241.3M189.4,272.7Q188.0,276.8 186.9,281.0M189.4,272.7Q200.2,280.6 211.2,288.1M189.4,272.7Q204.9,278.9 221.2,282.9M200.4,276.5Q193.4,277.9 186.9,281.0M200.4,276.5Q202.3,278.6 203.8,281.0M200.4,276.5Q204.6,283.8 206.7,291.9M200.4,276.5Q215.3,251.2 223.8,223.2M216.3,268.8Q222.2,266.4 228.5,265.6M216.3,268.8Q216.0,273.8 216.7,278.8M216.3,268.8Q233.8,253.1 254.3,241.4M216.3,268.8Q241.6,266.0 266.0,258.8M216.3,268.8Q243.1,277.1 270.8,281.1M228.5,265.6Q202.5,269.2 177.9,278.1M228.5,265.6Q230.7,271.7 233.1,277.7M228.5,265.6Q234.8,276.5 243.3,285.8M228.5,265.6Q203.4,265.2 178.8,260.6M228.5,265.6Q221.3,259.2 213.6,253.6M228.5,265.6Q233.8,268.1 238.8,271.0M228.5,265.6Q227.0,241.6 220.4,218.5M228.5,265.6Q247.5,263.6 266.0,258.8M242.5,268.0Q237.8,272.9 233.1,277.7M242.5,268.0Q240.6,269.5 238.8,271.0M242.5,268.0Q219.0,283.5 192.3,292.4M242.5,268.0Q256.1,266.0 269.8,267.6M242.5,268.0Q264.6,278.5 287.2,287.9M242.5,268.0Q255.9,274.7 269.3,281.4M161.2,281.9Q169.7,280.9 177.9,278.1M161.2,281.9Q180.3,292.3 200.0,301.5M161.2,281.9Q169.6,291.3 176.0,302.1M161.2,281.9Q166.1,281.5 171.0,281.5M161.2,281.9Q153.3,305.3 149.0,329.7M161.2,281.9Q161.4,311.1 161.9,340.3M177.9,278.1Q182.6,278.9 186.9,281.0M177.9,278.1Q178.5,281.5 179.8,284.8M177.9,278.1Q190.7,280.7 203.8,281.0M177.9,278.1Q174.6,280.2 171.0,281.5M177.9,278.1Q167.2,299.7 157.0,321.6M186.9,281.0Q183.4,283.0 179.8,284.8M186.9,281.0Q194.0,289.6 202.3,296.9M186.9,281.0Q201.7,279.1 216.7,278.8M186.9,281.0Q172.5,304.8 154.8,326.2M179.8,284.8Q177.9,293.5 176.0,302.1M179.8,284.8Q196.7,267.7 208.7,246.8M179.8,284.8Q182.7,271.7 188.4,259.5M179.8,284.8Q175.2,283.6 171.0,281.5M203.8,281.0Q202.6,282.9 201.5,284.8M203.8,281.0Q200.8,291.0 200.0,301.5M203.8,281.0Q189.9,291.5 176.0,302.1M203.8,281.0Q206.8,295.4 209.2,309.8M203.8,281.0Q187.7,266.6 169.0,255.6M203.8,281.0Q192.1,269.8 178.8,260.6M203.8,281.0Q210.1,279.1 216.7,278.8M201.5,284.8Q206.2,287.0 211.2,288.1M201.5,284.8Q222.4,283.5 243.3,285.8M201.5,284.8Q198.8,287.6 195.8,290.0M201.5,284.8Q191.3,271.6 178.8,260.6M201.5,284.8Q209.0,281.6 216.7,278.8M201.5,284.8Q196.6,288.2 192.3,292.4M211.2,288.1Q209.1,290.2 206.7,291.9M211.2,288.1Q196.4,272.7 178.8,260.6M211.2,288.1Q190.8,286.6 171.0,281.5M211.2,288.1Q224.2,278.2 238.8,271.0M211.2,288.1Q213.9,283.4 216.7,278.8M211.2,288.1Q237.2,279.1 264.0,272.4M211.2,288.1Q234.9,277.8 258.3,267.0M223.1,286.7Q222.4,284.7 221.2,282.9M223.1,286.7Q211.1,293.4 200.0,301.5M223.1,286.7Q224.6,291.7 224.6,296.9M223.1,286.7Q214.8,267.1 208.7,246.8M223.1,286.7Q219.9,282.7 216.7,278.8M223.1,286.7Q207.7,289.6 192.3,292.4M223.1,286.7Q204.5,290.4 186.5,296.3M223.1,286.7Q239.0,263.9 255.1,241.3M223.1,286.7Q252.9,288.3 281.5,296.8M223.1,286.7Q240.0,275.6 258.3,267.0M221.2,282.9Q208.2,285.2 195.8,290.0M221.2,282.9Q199.0,293.4 176.0,302.1M221.2,282.9Q219.1,280.7 216.7,278.8M221.2,282.9Q241.5,272.0 258.2,256.0M221.2,282.9Q244.0,271.6 266.0,258.8M221.2,282.9Q249.0,275.8 276.0,265.9M233.1,277.7Q238.1,281.9 243.3,285.8M233.1,277.7Q235.8,274.2 238.8,271.0M233.1,277.7Q231.6,249.9 223.8,223.2M233.1,277.7Q243.9,259.4 255.1,241.3M243.3,285.8Q224.9,295.8 209.2,309.8M243.3,285.8Q227.6,270.5 213.6,253.6M243.3,285.8Q241.8,278.2 238.8,271.0M243.3,285.8Q214.5,288.8 186.5,296.3M243.3,285.8Q270.9,277.1 297.9,266.6M243.3,285.8Q258.4,278.4 273.7,271.4M243.3,285.8Q271.3,280.6 299.8,281.1M243.3,285.8Q270.5,289.4 297.9,288.8M195.8,290.0Q202.9,299.6 209.2,309.8M195.8,290.0Q188.0,274.9 178.8,260.6M195.8,290.0Q205.7,283.3 216.7,278.8M195.8,290.0Q194.2,291.4 192.3,292.4M195.8,290.0Q191.5,293.6 186.5,296.3M206.7,291.9Q204.3,294.2 202.3,296.9M206.7,291.9Q203.8,297.0 200.0,301.5M206.7,291.9Q210.9,295.6 215.8,298.3M206.7,291.9Q215.7,294.1 224.6,296.9M206.7,291.9Q229.0,273.2 250.5,253.6M202.3,296.9Q201.2,299.2 200.0,301.5M202.3,296.9Q186.3,275.7 169.0,255.6M202.3,296.9Q181.1,311.8 157.0,321.6M200.0,301.5Q204.7,305.5 209.2,309.8M200.0,301.5Q175.9,311.1 154.8,326.2M200.0,301.5Q179.4,322.1 155.5,338.7M200.0,301.5Q180.1,320.1 161.9,340.3M215.8,298.3Q220.2,297.4 224.6,296.9M215.8,298.3Q212.8,304.2 209.2,309.8M215.8,298.3Q230.2,273.6 250.5,253.6M224.6,296.9Q200.6,302.8 176.0,302.1M224.6,296.9Q208.9,275.9 188.4,259.5M224.6,296.9Q243.1,285.3 259.2,270.5M176.0,302.1Q174.5,278.6 169.0,255.6M176.0,302.1Q181.5,299.7 186.5,296.3M176.0,302.1Q160.7,314.2 149.0,329.7M176.0,302.1Q167.5,321.4 155.5,338.7M176.0,302.1Q168.5,321.0 161.9,340.3M176.0,302.1Q158.7,325.6 141.3,349.0M209.2,309.8Q190.4,295.3 171.0,281.5M208.7,246.8Q192.9,251.9 178.8,260.6M208.7,246.8Q188.6,262.8 171.0,281.5M208.7,246.8Q210.7,250.5 213.6,253.6M208.7,246.8Q214.4,262.4 216.7,278.8M208.7,246.8Q210.4,226.9 210.5,207.0M208.7,246.8Q233.2,252.6 258.2,256.0M208.7,246.8Q236.9,254.8 266.0,258.8M169.0,255.6Q178.6,257.9 188.4,259.5M169.0,255.6Q173.7,258.6 178.8,260.6M188.4,259.5Q200.8,255.9 213.6,253.6M171.0,281.5Q157.1,304.3 149.0,329.7M171.0,281.5Q164.0,310.3 155.5,338.7M171.0,281.5Q165.6,310.8 161.9,340.3M213.6,253.6Q200.8,271.8 192.3,292.4M213.6,253.6Q198.8,274.2 186.5,296.3M213.6,253.6Q206.6,230.3 202.1,206.4M238.8,271.0Q259.4,253.9 282.4,240.1M238.8,271.0Q252.7,256.9 267.9,244.3M238.8,271.0Q252.6,265.4 266.0,258.8M238.8,271.0Q257.8,271.0 276.0,265.9M216.7,278.8Q237.6,262.2 254.3,241.4M216.7,278.8Q243.8,279.2 270.8,281.1M192.3,292.4Q189.5,294.4 186.5,296.3M192.3,292.4Q175.0,315.0 161.9,340.3M213.6,192.7Q208.3,199.9 202.1,206.4M213.6,192.7Q212.2,199.9 210.5,207.0M213.6,192.7Q218.8,205.1 220.4,218.5M213.6,192.7Q235.3,195.5 256.2,202.0M202.1,206.4Q206.3,206.7 210.5,207.0M202.1,206.4Q212.5,215.4 223.8,223.2M202.1,206.4Q225.4,203.8 248.5,199.8M210.5,207.0Q215.7,212.6 220.4,218.5M210.5,207.0Q216.1,215.9 223.8,223.2M210.5,207.0Q233.4,205.3 256.2,202.0M210.5,207.0Q233.6,207.8 256.2,213.0M210.5,207.0Q235.0,216.1 256.7,230.8M220.4,218.5Q221.8,221.1 223.8,223.2M220.4,218.5Q239.4,212.7 256.2,202.0M220.4,218.5Q236.0,231.9 254.3,241.4M223.8,223.2Q240.3,213.1 256.2,202.0M223.8,223.2Q246.4,232.6 267.9,244.3M248.5,199.8Q252.5,200.5 256.2,202.0M248.5,199.8Q252.8,206.1 256.2,213.0M248.5,199.8Q253.8,215.0 256.7,230.8M248.5,199.8Q248.9,220.9 254.3,241.4M248.5,199.8Q250.3,228.4 258.2,256.0M256.2,202.0Q255.8,207.5 256.2,213.0M256.2,213.0Q269.0,221.5 279.9,232.4M256.2,213.0Q254.8,233.5 250.5,253.6M256.2,213.0Q264.5,239.9 269.8,267.6M256.7,230.8Q254.8,235.9 254.3,241.4M256.7,230.8Q256.4,236.1 255.1,241.3M256.7,230.8Q260.9,256.6 269.3,281.4M279.9,232.4Q281.0,236.3 282.4,240.1M279.9,232.4Q282.7,239.8 285.7,247.2M279.9,232.4Q271.3,244.7 266.0,258.8M279.9,232.4Q276.0,250.3 269.8,267.6M279.9,232.4Q271.8,252.3 264.0,272.4M279.9,232.4Q286.2,259.8 287.2,287.9M282.4,240.1Q284.5,243.5 285.7,247.2M282.4,240.1Q275.4,243.2 267.9,244.3M282.4,240.1Q286.3,258.5 288.2,277.2M285.7,247.2Q276.5,254.0 266.0,258.8M285.7,247.2Q285.4,254.6 283.4,261.8M285.7,247.2Q278.0,258.5 273.7,271.4M285.7,247.2Q287.8,262.1 288.2,277.2M285.7,247.2Q284.2,267.6 287.2,287.9M285.7,247.2Q290.6,268.3 297.9,288.8M254.3,241.4Q261.0,243.3 267.9,244.3M254.3,241.4Q252.1,247.4 250.5,253.6M254.3,241.4Q260.4,255.5 269.8,267.6M254.3,241.4Q254.7,241.4 255.1,241.3M267.9,244.3Q258.9,248.4 250.5,253.6M267.9,244.3Q266.8,251.5 266.0,258.8M267.9,244.3Q275.2,253.5 283.4,261.8M267.9,244.3Q265.1,258.2 264.0,272.4M267.9,244.3Q263.4,257.3 259.2,270.5M267.9,244.3Q261.5,242.8 255.1,241.3M267.9,244.3Q273.0,254.7 276.0,265.9M250.5,253.6Q254.2,255.2 258.2,256.0M250.5,253.6Q267.0,257.6 283.4,261.8M258.2,256.0Q262.3,256.9 266.0,258.8M258.2,256.0Q265.7,268.0 270.8,281.1M258.2,256.0Q277.7,270.7 299.8,281.1M258.2,256.0Q267.4,260.3 276.0,265.9M258.2,256.0Q264.1,268.5 269.3,281.4M266.0,258.8Q274.6,260.7 283.4,261.8M266.0,258.8Q267.5,263.4 269.8,267.6M266.0,258.8Q270.2,264.9 273.7,271.4M266.0,258.8Q265.2,265.6 264.0,272.4M266.0,258.8Q262.7,264.7 259.2,270.5M266.0,258.8Q284.4,267.7 299.8,281.1M266.0,258.8Q275.1,274.5 287.2,287.9M266.0,258.8Q276.3,276.8 281.5,296.8M266.0,258.8Q266.2,270.3 269.3,281.4M283.4,261.8Q276.9,265.4 269.8,267.6M283.4,261.8Q279.0,267.1 273.7,271.4M283.4,261.8Q273.2,266.2 264.0,272.4M283.4,261.8Q285.1,269.7 288.2,277.2M283.4,261.8Q286.3,274.7 287.2,287.9M283.4,261.8Q269.4,251.3 255.1,241.3M283.4,261.8Q279.7,263.9 276.0,265.9M297.9,266.6Q280.8,268.5 264.0,272.4M297.9,266.6Q293.5,272.3 288.2,277.2M297.9,266.6Q298.2,273.9 299.8,281.1M297.9,266.6Q297.0,281.9 300.2,296.8M297.9,266.6Q288.8,281.2 281.5,296.8M269.8,267.6Q271.5,269.7 273.7,271.4M269.8,267.6Q266.6,269.6 264.0,272.4M269.8,267.6Q264.5,269.2 259.2,270.5M269.8,267.6Q263.7,253.7 255.1,241.3M269.8,267.6Q283.6,283.6 300.2,296.8M269.8,267.6Q272.9,266.8 276.0,265.9M273.7,271.4Q266.4,271.7 259.2,270.5M273.7,271.4Q272.1,276.2 270.8,281.1M273.7,271.4Q279.5,280.4 287.2,287.9M273.7,271.4Q274.7,268.6 276.0,265.9M273.7,271.4Q266.1,268.9 258.3,267.0M264.0,272.4Q261.7,271.2 259.2,270.5M264.0,272.4Q275.4,280.5 287.2,287.9M264.0,272.4Q283.7,282.3 300.2,296.8M264.0,272.4Q266.5,277.0 269.3,281.4M264.0,272.4Q261.0,269.9 258.3,267.0M259.2,270.5Q258.9,268.7 258.3,267.0M288.2,277.2Q293.9,279.4 299.8,281.1M288.2,277.2Q288.0,282.6 287.2,287.9M288.2,277.2Q273.6,257.4 255.1,241.3M288.2,277.2Q293.9,287.2 300.2,296.8M288.2,277.2Q278.8,279.7 269.3,281.4M288.2,277.2Q273.7,270.7 258.3,267.0M270.8,281.1Q283.9,286.4 297.9,288.8M270.8,281.1Q265.1,260.3 255.1,241.3M270.8,281.1Q270.0,281.2 269.3,281.4M270.8,281.1Q264.9,273.8 258.3,267.0M299.8,281.1Q298.6,284.9 297.9,288.8M299.8,281.1Q299.8,289.0 300.2,296.8M287.2,287.9Q292.5,288.4 297.9,288.8M287.2,287.9Q293.1,293.2 300.2,296.8M287.2,287.9Q284.5,292.5 281.5,296.8M297.9,288.8Q299.5,292.7 300.2,296.8M297.9,288.8Q289.5,292.3 281.5,296.8M281.5,296.8Q278.7,281.4 276.0,265.9M157.0,321.6Q155.9,323.9 154.8,326.2M157.0,321.6Q152.9,325.5 149.0,329.7M157.0,321.6Q150.1,335.8 141.3,349.0M154.8,326.2Q152.0,328.2 149.0,329.7M154.8,326.2Q155.9,332.4 155.5,338.7M154.8,326.2Q157.8,333.5 161.9,340.3M154.8,326.2Q146.7,336.8 141.3,349.0M149.0,329.7Q152.0,334.4 155.5,338.7M149.0,329.7Q146.2,339.8 141.3,349.0M155.5,338.7Q158.6,339.9 161.9,340.3M155.5,338.7Q147.9,343.2 141.3,349.0M161.9,340.3Q151.6,344.6 141.3,349.0" fill="none" stroke="#5a66e0" stroke-width="0.55" stroke-opacity="0.85"/>
<g><circle cx="179.5" cy="228" r="2.94" fill="#cc1a1a"/><circle cx="164.5" cy="242.5" r="1.89" fill="#5a1010"/><circle cx="205.4" cy="234.7" r="2.94" fill="#cc1a1a"/><circle cx="207.6" cy="242.4" r="1.89" fill="#cc1a1a"/><circle cx="190" cy="246.4" r="2.94" fill="#cc1a1a"/><circle cx="216.3" cy="245.4" r="1.89" fill="#cc1a1a"/><circle cx="228.2" cy="248.5" r="2.94" fill="#cc1a1a"/><circle cx="181" cy="256" r="2.94" fill="#cc1a1a"/><circle cx="188.5" cy="252" r="4.20" fill="#cc1a1a"/><circle cx="207" cy="253" r="1.89" fill="#cc1a1a"/><circle cx="199" cy="256" r="2.94" fill="#cc1a1a"/><circle cx="175.4" cy="260.4" r="2.94" fill="#cc1a1a"/><circle cx="185.6" cy="264.6" r="4.20" fill="#cc1a1a"/><circle cx="176" cy="268.5" r="1.89" fill="#cc1a1a"/><circle cx="202.3" cy="262.3" r="2.94" fill="#cc1a1a"/><circle cx="196.5" cy="271.9" r="4.20" fill="#cc1a1a"/><circle cx="203.5" cy="272.3" r="4.20" fill="#cc1a1a"/><circle cx="209.6" cy="273.8" r="4.20" fill="#cc1a1a"/><circle cx="189.4" cy="272.7" r="1.89" fill="#cc1a1a"/><circle cx="200.4" cy="276.5" r="2.94" fill="#cc1a1a"/><circle cx="216.3" cy="268.8" r="1.89" fill="#cc1a1a"/><circle cx="228.5" cy="265.6" r="2.94" fill="#cc1a1a"/><circle cx="242.5" cy="268" r="2.94" fill="#cc1a1a"/><circle cx="161.2" cy="281.9" r="2.94" fill="#cc1a1a"/><circle cx="177.9" cy="278.1" r="2.94" fill="#cc1a1a"/><circle cx="186.9" cy="281" r="2.94" fill="#cc1a1a"/><circle cx="179.8" cy="284.8" r="1.89" fill="#cc1a1a"/><circle cx="203.8" cy="281" r="2.94" fill="#cc1a1a"/><circle cx="201.5" cy="284.8" r="1.89" fill="#cc1a1a"/><circle cx="211.2" cy="288.1" r="4.20" fill="#cc1a1a"/><circle cx="223.1" cy="286.7" r="4.20" fill="#cc1a1a"/><circle cx="221.2" cy="282.9" r="1.89" fill="#cc1a1a"/><circle cx="233.1" cy="277.7" r="1.89" fill="#cc1a1a"/><circle cx="243.3" cy="285.8" r="2.94" fill="#cc1a1a"/><circle cx="195.8" cy="290" r="2.94" fill="#cc1a1a"/><circle cx="206.7" cy="291.9" r="1.89" fill="#cc1a1a"/><circle cx="202.3" cy="296.9" r="2.94" fill="#cc1a1a"/><circle cx="200" cy="301.5" r="2.94" fill="#cc1a1a"/><circle cx="215.8" cy="298.3" r="1.89" fill="#cc1a1a"/><circle cx="224.6" cy="296.9" r="1.89" fill="#cc1a1a"/><circle cx="176" cy="302.1" r="2.94" fill="#cc1a1a"/><circle cx="209.2" cy="309.8" r="1.89" fill="#7a1818"/><circle cx="208.7" cy="246.8" r="1.89" fill="#cc1a1a"/><circle cx="169" cy="255.6" r="1.89" fill="#cc1a1a"/><circle cx="188.4" cy="259.5" r="1.89" fill="#cc1a1a"/><circle cx="178.8" cy="260.6" r="1.89" fill="#cc1a1a"/><circle cx="171" cy="281.5" r="1.89" fill="#8a1a14"/><circle cx="213.6" cy="253.6" r="1.89" fill="#cc1a1a"/><circle cx="238.8" cy="271" r="1.89" fill="#8a1a14"/><circle cx="216.7" cy="278.8" r="1.89" fill="#cc1a1a"/><circle cx="192.3" cy="292.4" r="1.89" fill="#cc1a1a"/><circle cx="186.5" cy="296.3" r="1.89" fill="#8a1a14"/><circle cx="213.6" cy="192.7" r="2.94" fill="#b43cd0"/><circle cx="202.1" cy="206.4" r="2.94" fill="#b43cd0"/><circle cx="210.5" cy="207" r="1.89" fill="#b43cd0"/><circle cx="220.4" cy="218.5" r="2.94" fill="#b43cd0"/><circle cx="223.8" cy="223.2" r="4.20" fill="#b43cd0"/><circle cx="248.5" cy="199.8" r="1.89" fill="#a86a4a"/><circle cx="256.2" cy="202" r="1.89" fill="#a86a4a"/><circle cx="256.2" cy="213" r="1.89" fill="#a86a4a"/><circle cx="256.7" cy="230.8" r="1.89" fill="#8a3a2a"/><circle cx="279.9" cy="232.4" r="1.89" fill="#5a8ce2"/><circle cx="282.4" cy="240.1" r="1.89" fill="#5a8ce2"/><circle cx="285.7" cy="247.2" r="1.89" fill="#5a8ce2"/><circle cx="254.3" cy="241.4" r="2.94" fill="#5a8ce2"/><circle cx="267.9" cy="244.3" r="2.94" fill="#5a8ce2"/><circle cx="250.5" cy="253.6" r="1.89" fill="#5a8ce2"/><circle cx="258.2" cy="256" r="4.20" fill="#5a8ce2"/><circle cx="266" cy="258.8" r="4.20" fill="#5a8ce2"/><circle cx="283.4" cy="261.8" r="2.94" fill="#5a8ce2"/><circle cx="297.9" cy="266.6" r="1.89" fill="#5a8ce2"/><circle cx="269.8" cy="267.6" r="4.20" fill="#5a8ce2"/><circle cx="273.7" cy="271.4" r="2.94" fill="#5a8ce2"/><circle cx="264" cy="272.4" r="1.89" fill="#5a8ce2"/><circle cx="259.2" cy="270.5" r="1.89" fill="#5a8ce2"/><circle cx="288.2" cy="277.2" r="1.89" fill="#5a8ce2"/><circle cx="270.8" cy="281.1" r="1.89" fill="#5a8ce2"/><circle cx="299.8" cy="281.1" r="1.89" fill="#5a8ce2"/><circle cx="287.2" cy="287.9" r="2.94" fill="#5a8ce2"/><circle cx="297.9" cy="288.8" r="1.89" fill="#5a8ce2"/><circle cx="255.1" cy="241.3" r="1.89" fill="#5a8ce2"/><circle cx="300.2" cy="296.8" r="1.89" fill="#5a8ce2"/><circle cx="281.5" cy="296.8" r="1.89" fill="#5a8ce2"/><circle cx="276" cy="265.9" r="1.89" fill="#5a8ce2"/><circle cx="269.3" cy="281.4" r="1.89" fill="#5a8ce2"/><circle cx="258.3" cy="267" r="1.89" fill="#5a8ce2"/><circle cx="157" cy="321.6" r="1.89" fill="#5aa83a"/><circle cx="154.8" cy="326.2" r="1.89" fill="#5aa83a"/><circle cx="149" cy="329.7" r="1.89" fill="#5aa83a"/><circle cx="155.5" cy="338.7" r="1.89" fill="#5aa83a"/><circle cx="161.9" cy="340.3" r="1.89" fill="#5aa83a"/><circle cx="141.3" cy="349" r="1.89" fill="#5aa83a"/></g>
<g fill="#333" stroke="#333" stroke-width="0.22" font-size="2.5" text-anchor="middle" opacity="0.6"><text x="179.5" y="228.8">_miefalsp_clt_bnfpoffh</text><text x="164.5" y="243.3">desucndkghocign</text><text x="205.4" y="235.5">lbgaobnreahod_adugg</text><text x="207.6" y="243.2">acetascurtgocngcuef_</text><text x="190.0" y="247.2">bbit_eiubdnhf_sbmsuucmdump</text><text x="216.3" y="246.2">nguan_laodghpilckk</text><text x="228.2" y="249.3">sbantormhucohdns</text><text x="181.0" y="256.8">tmekfiabfifd_eabbpgn</text><text x="188.5" y="252.8">_amkertiectkdcopetn</text><text x="207.0" y="253.8">fi__rmdbisefcfhagfrputtn</text><text x="199.0" y="256.8">ftruitcauuotksst</text><text x="175.4" y="261.2">cutkcheddrpbrb_amhphmu_rh</text><text x="185.6" y="265.4">__c_boouccgb_fc</text><text x="176.0" y="269.3">am_rttraclclappu</text><text x="202.3" y="263.1">nredmhpeghddbdccm</text><text x="196.5" y="272.7">apsgmchaisgapi_a</text><text x="203.5" y="273.1">sobirl_hbiekbfmn</text><text x="209.6" y="274.6">kdalpho_lrumnog</text><text x="189.4" y="273.5">ikpp_uppnflnblcf</text><text x="200.4" y="277.3">taggmeclp__ngtlcator</text><text x="216.3" y="269.6">lssdpaktgchalbcelf</text><text x="228.5" y="266.4">dsnnnusesmmiglnuf_fufakair</text><text x="242.5" y="268.8">ocikesprhflem_btimauftd</text><text x="161.2" y="282.7">elgteogsguoatbmrmbmnpo</text><text x="177.9" y="278.9">gtdfucmihrsfsatlhfabuuglk</text><text x="186.9" y="281.8">elknbcnhppblfeugsunsenbnek</text><text x="179.8" y="285.6">rf_dsrsiim_mtagbspkdg</text><text x="203.8" y="281.8">gpdikkhafoimmlt</text><text x="201.5" y="285.6">taegcbgaipmmtcdoo</text><text x="211.2" y="288.9">bhuesuomgmssobftl</text><text x="223.1" y="287.5">pkkotodbmhoimpmcosf</text><text x="221.2" y="283.7">dlorakocnigurf_a</text><text x="233.1" y="278.5">kasduuagp_dnsifcss</text><text x="243.3" y="286.6">keofgkrkrslspbutrccolcrfu</text><text x="195.8" y="290.8">_erotrdusakpucuitfialsp</text><text x="206.7" y="292.7">mlfflllrclkduikb_nrckoh</text><text x="202.3" y="297.7">knpsbgfduccckarkbpffci</text><text x="200.0" y="302.3">dfimihggrutgoiph</text><text x="215.8" y="299.1">ciiefa__neprd_d_nntle</text><text x="224.6" y="297.7">lhmtcdcamupmhptapi</text><text x="176.0" y="302.9">ulfmckgi_fndahueaf_cneoiu</text><text x="209.2" y="310.6">rcoeidseersiamduukdahrtfs</text><text x="208.7" y="247.6">migflahcganarabgkktcotgsg</text><text x="169.0" y="256.4">dcglbpfuiumdtiie</text><text x="188.4" y="260.3">bmcelaiuhfauboa</text><text x="178.8" y="261.4">mcegeuptpl_purhgripbrugepf</text><text x="171.0" y="282.3">domflp_dbecmcisidsipog</text><text x="213.6" y="254.4">ngknslmegcbblucpom_alfpibbi</text><text x="238.8" y="271.8">hainbgodlbndo_cskmharf</text><text x="216.7" y="279.6">fbmonmkttaolralghdnmn</text><text x="192.3" y="293.2">cmorgmnhumdkcoukkpugngsl</text><text x="186.5" y="297.1">umtlfbcbplgd_huemhu_m</text><text x="213.6" y="193.5">fkdseaagshnhbkd</text><text x="202.1" y="207.2">bihsphfmmibalkc_addfk</text><text x="210.5" y="207.8">sapmpdnhesulatcubt</text><text x="220.4" y="219.3">a_bdlclbdbftbn_gu_itahb</text><text x="223.8" y="224.0">hgpctagsrlocakcaa</text><text x="248.5" y="200.6">iltnhnca__dnfddu</text><text x="256.2" y="202.8">ch_gblcgruagsmklr</text><text x="256.2" y="213.8">mcmdlmfkueperpsmugeci</text><text x="256.7" y="231.6">aftdnaoc_hgsdcgpobaukl</text><text x="279.9" y="233.2">ecbcrrotumrtmktesrpgesob</text><text x="282.4" y="240.9">feapheeitsasofeo</text><text x="285.7" y="248.0">ouugtbasdglupbbhe_</text><text x="254.3" y="242.2">kcnkacmcnghngldr</text><text x="267.9" y="245.1">mols_tmntsh_lieoufpidb</text><text x="250.5" y="254.4">ufuulmaiucepsaogbohsp</text><text x="258.2" y="256.8">heh__upmphcf_lonr_n_sn</text><text x="266.0" y="259.6">p_ctkspfbcrfgosttmalg</text><text x="283.4" y="262.6">n_hk_dlbhdptpnou</text><text x="297.9" y="267.4">gmiatpcdipfmighodtssgiobl</text><text x="269.8" y="268.4">brtllccoebok__dluoaghnoc</text><text x="273.7" y="272.2">snitchnuhmskodcgkosnn</text><text x="264.0" y="273.2">bfhdknppruub__bnfekusscb</text><text x="259.2" y="271.3">aorhdbikhbuuetakbnoh_</text><text x="288.2" y="278.0">fnibkbdttekhb_pihfdmprtsnbd</text><text x="270.8" y="281.9">rmlgc_mrpdhdcotni</text><text x="299.8" y="281.9">updherbtc_lpirtns</text><text x="287.2" y="288.7">nhiufhrkagdmhmura</text><text x="297.9" y="289.6">ueplnfrkiscropnnm</text><text x="255.1" y="242.1">bnomrcatpife_iadbn</text><text x="300.2" y="297.6">hfgllgsudhdnclfn</text><text x="281.5" y="297.6">fsdhhmilubirtk_uetsmoae</text><text x="276.0" y="266.7">pmt_tuufgeibstuleehblctbch</text><text x="269.3" y="282.2">_daihnmddksamrmdc_</text><text x="258.3" y="267.8">lm_mrhcrdiainrchumluoegr</text><text x="157.0" y="322.4">kartmufmtlicnslarsbsdghcfktscfstkskpt</text><text x="154.8" y="327.0">omgrpfthhsbgfrupnilehiadcritedbasmotie</text><text x="149.0" y="330.5">utrplimhsnbnnllmgmrkgkagpfhu_pobkocashf</text><text x="155.5" y="339.5">dmkumrtapbnpp_pgnsroli_clufnrrtuaaehkhkfoopi_</text><text x="161.9" y="341.1">ftkego_abskuhrpfosfpdnf_lpglpramldkfhi</text><text x="141.3" y="349.8">_neushhbmk_ldcuonnnkphbletetemne_hrmp</text></g>
<path d="M44,214.6 L175,214.6 L232.5,237" fill="none" stroke="#2a2a2a" stroke-width="1.3" stroke-dasharray="1.8 1.1"/><path d="M245.5,171 L232.5,237 L261,290 L268.7,303.7" fill="none" stroke="#2a2a2a" stroke-width="1.3" stroke-dasharray="1.8 1.1"/><path d="M232.5,237 L261.5,237.3 L283,224.2 L396,224.2" fill="none" stroke="#2a2a2a" stroke-width="1.3" stroke-dasharray="1.8 1.1"/><path d="M92,317.3 L205.8,317.3 L268.7,303.7 L325,311.5 L372,318.5" fill="none" stroke="#2a2a2a" stroke-width="1.3" stroke-dasharray="1.8 1.1"/><path d="M197,184.5 L241,184.5" fill="none" stroke="#a8a8a8" stroke-width="0.9" stroke-dasharray="3 5"/>
<g stroke-width="0.12"><text x="11.3" y="232" font-size="7.4" fill="#262626" stroke="#262626" font-weight="bold" textLength="48.5" lengthAdjust="spacingAndGlyphs" stroke-width="0.22">pro-apoptotic</text><text x="21.7" y="240.8" font-size="7.4" fill="#262626" stroke="#262626" font-weight="bold" textLength="27.7" lengthAdjust="spacingAndGlyphs" stroke-width="0.22">process</text><text x="109.6" y="198.6" font-size="6.2" fill="#5e8a2e" stroke="#5e8a2e" font-weight="bold" textLength="25.0" lengthAdjust="spacingAndGlyphs" stroke-width="0.22">negative</text><text x="105.4" y="204.9" font-size="6.6" fill="#5e8a2e" stroke="#5e8a2e" font-weight="bold" textLength="34.0" lengthAdjust="spacingAndGlyphs" stroke-width="0.22">regulation</text><text x="113" y="210.6" font-size="4.2" fill="#7a9a4a" stroke="#7a9a4a" font-weight="normal" textLength="18.7" lengthAdjust="spacingAndGlyphs" stroke-width="0.22">processes</text><text x="160" y="201" font-size="4.9" fill="#3a4a9c" stroke="#3a4a9c" font-weight="bold" textLength="34.2" lengthAdjust="spacingAndGlyphs" stroke-width="0.22">pro-apoptotic</text><text x="167.7" y="206.8" font-size="4.9" fill="#3a4a9c" stroke="#3a4a9c" font-weight="bold" textLength="18.5" lengthAdjust="spacingAndGlyphs" stroke-width="0.22">process</text><text x="262.8" y="219.6" font-size="6.6" fill="#b84636" stroke="#b84636" font-weight="bold" textLength="38.6" lengthAdjust="spacingAndGlyphs" stroke-width="0.22">homeostasis</text><text x="279.9" y="212.4" font-size="3" fill="#c0402e" stroke="#c0402e" font-weight="normal" textLength="4.7" lengthAdjust="spacingAndGlyphs" stroke-width="0.22">loss</text><text x="333.8" y="245.5" font-size="5.2" fill="#5e8a2e" stroke="#5e8a2e" font-weight="bold" textLength="32.9" lengthAdjust="spacingAndGlyphs" stroke-width="0.22">inflammatory</text><text x="335.5" y="252.5" font-size="6.0" fill="#5e8a2e" stroke="#5e8a2e" font-weight="bold" textLength="28.8" lengthAdjust="spacingAndGlyphs" stroke-width="0.22">response</text><text x="392.6" y="247.2" font-size="5.6" fill="#7a6aa2" stroke="#7a6aa2" font-weight="normal" textLength="22.2" lengthAdjust="spacingAndGlyphs" stroke-width="0.22">immune</text><text x="394" y="253.3" font-size="5.6" fill="#7a6aa2" stroke="#7a6aa2" font-weight="normal" textLength="19.0" lengthAdjust="spacingAndGlyphs" stroke-width="0.22">system</text><text x="182.5" y="324.6" font-size="6.6" fill="#c0402e" stroke="#c0402e" font-weight="bold" textLength="27.9" lengthAdjust="spacingAndGlyphs" stroke-width="0.22">negative</text><text x="174.8" y="334.2" font-size="8.4" fill="#c0402e" stroke="#c0402e" font-weight="bold" textLength="42.9" lengthAdjust="spacingAndGlyphs" stroke-width="0.22">regulation</text><text x="185" y="340.6" font-size="4.8" fill="#c0402e" stroke="#c0402e" font-weight="normal" textLength="22.5" lengthAdjust="spacingAndGlyphs" stroke-width="0.22">processes</text><text x="222.3" y="326.9" font-size="4.8" fill="#5e8a2e" stroke="#5e8a2e" font-weight="normal" textLength="32.3" lengthAdjust="spacingAndGlyphs" stroke-width="0.22">pro-apoptotic</text><text x="225.2" y="335.4" font-size="7.2" fill="#5e8a2e" stroke="#5e8a2e" font-weight="bold" textLength="26.9" lengthAdjust="spacingAndGlyphs" stroke-width="0.22">process</text><text x="94.4" y="281" font-size="4.4" fill="#b84040" stroke="#b84040" font-weight="bold" textLength="7.5" lengthAdjust="spacingAndGlyphs" stroke-width="0.22">cell</text><text x="88.7" y="284.5" font-size="3" fill="#b84040" stroke="#b84040" font-weight="normal" textLength="19.2" lengthAdjust="spacingAndGlyphs" stroke-width="0.22">differentiation</text><text x="110.6" y="297.6" font-size="4.4" fill="#3a4a9c" stroke="#3a4a9c" font-weight="bold" textLength="15.0" lengthAdjust="spacingAndGlyphs" stroke-width="0.22">targets</text><text x="8.7" y="307.9" font-size="3.4" fill="#5e8a2e" stroke="#5e8a2e" font-weight="bold" textLength="17.3" lengthAdjust="spacingAndGlyphs" stroke-width="0.22">epigenetic</text><text x="3.8" y="311.5" font-size="3.4" fill="#5e8a2e" stroke="#5e8a2e" font-weight="bold" textLength="26.0" lengthAdjust="spacingAndGlyphs" stroke-width="0.22">reprogramming</text><text x="133" y="264.1" font-size="6.4" fill="#7a6a8a" stroke="#7a6a8a" font-weight="normal" textLength="7.5" lengthAdjust="spacingAndGlyphs" stroke-width="0.22">dn</text><text x="121.6" y="236.5" font-size="4" fill="#7a6a9a" stroke="#7a6a9a" font-weight="normal" textLength="13.4" lengthAdjust="spacingAndGlyphs" stroke-width="0.22">sdbcla</text><text x="128.0" y="228.9" font-size="2.6" fill="#8a7aaa" stroke="#8a7aaa" font-weight="normal" text-anchor="middle" opacity="1.0">caxui</text><text x="128.0" y="239.4" font-size="2.6" fill="#8a7aaa" stroke="#8a7aaa" font-weight="normal" text-anchor="middle" opacity="1.0">uhkg</text><text x="116.5" y="183.3" font-size="3.6" fill="#999" stroke="#999" font-weight="normal" text-anchor="middle" opacity="1">cell</text><text x="116.5" y="187.2" font-size="3.2" fill="#999" stroke="#999" font-weight="normal" text-anchor="middle" opacity="1">proliferation</text><text x="312.2" y="214.4" font-size="2.8" fill="#5e8a2e" stroke="#5e8a2e" font-weight="normal" textLength="5.4" lengthAdjust="spacingAndGlyphs" stroke-width="0.22">cell</text><text x="304" y="218" font-size="2.8" fill="#5e8a2e" stroke="#5e8a2e" font-weight="normal" textLength="21.0" lengthAdjust="spacingAndGlyphs" stroke-width="0.22">communication</text><text x="348" y="297.6" font-size="4" fill="#3a52a8" stroke="#3a52a8" font-weight="bold" text-anchor="middle" opacity="1">epigenetic</text><text x="348" y="301.2" font-size="3" fill="#3a52a8" stroke="#3a52a8" font-weight="normal" text-anchor="middle" opacity="1">reprogramming</text><text x="384.5" y="260" font-size="4" fill="#3a52a8" stroke="#3a52a8" font-weight="bold" text-anchor="middle" opacity="1">ifit1</text><text x="380.7" y="282.6" font-size="4" fill="#5a8a2a" stroke="#5a8a2a" font-weight="bold" text-anchor="middle" opacity="1">irf1</text><text x="380.7" y="286.2" font-size="4" fill="#5a8a2a" stroke="#5a8a2a" font-weight="bold" text-anchor="middle" opacity="1">ncf1</text><text x="280" y="331.5" font-size="3.2" fill="#3a52a8" stroke="#3a52a8" font-weight="bold" text-anchor="middle" opacity="1">response</text><text x="280" y="334.6" font-size="3.2" fill="#3a52a8" stroke="#3a52a8" font-weight="bold" text-anchor="middle" opacity="1">regulation</text><text x="382.7" y="238" font-size="3.6" fill="#3a52a8" stroke="#3a52a8" font-weight="bold" text-anchor="middle" opacity="1">cxcl10</text><text x="81.5" y="155.7" font-size="5" fill="#1e1e1e" stroke="#1e1e1e" font-weight="bold" text-anchor="middle">— il8</text><text x="81.5" y="159.8" font-size="3.4" fill="#1e1e1e" stroke="#1e1e1e" font-weight="normal" text-anchor="middle">ezh2</text><text x="81.5" y="162.8" font-size="3.2" fill="#1e1e1e" stroke="#1e1e1e" font-weight="normal" text-anchor="middle">prdm1</text><text x="81.5" y="165.6" font-size="3.2" fill="#1e1e1e" stroke="#1e1e1e" font-weight="normal" text-anchor="middle">— irf4</text><text x="81.5" y="169.6" font-size="4.6" fill="#1e1e1e" stroke="#1e1e1e" font-weight="bold" text-anchor="middle">cdkn2b</text><text x="81.5" y="173.6" font-size="4.6" fill="#1e1e1e" stroke="#1e1e1e" font-weight="bold" text-anchor="middle">cdkn2d</text><text x="81.5" y="176.6" font-size="3.2" fill="#1e1e1e" stroke="#1e1e1e" font-weight="normal" text-anchor="middle">— wnt5</text><text x="81.5" y="180.6" font-size="4.3" fill="#1e1e1e" stroke="#1e1e1e" font-weight="bold" text-anchor="middle">egf</text><text x="81.5" y="183.4" font-size="3.2" fill="#1e1e1e" stroke="#1e1e1e" font-weight="normal" text-anchor="middle">— ctnnb</text><text x="81.5" y="186.4" font-size="3.2" fill="#1e1e1e" stroke="#1e1e1e" font-weight="normal" text-anchor="middle">sfrp1</text><text x="81.5" y="189.2" font-size="3.5" fill="#1e1e1e" stroke="#1e1e1e" font-weight="bold" text-anchor="middle">— rock1</text><text x="81.5" y="192.4" font-size="3.5" fill="#1e1e1e" stroke="#1e1e1e" font-weight="normal" text-anchor="middle">— fas1</text><text x="81.5" y="195.2" font-size="3.2" fill="#1e1e1e" stroke="#1e1e1e" font-weight="normal" text-anchor="middle">tgfb —</text><text x="81.5" y="198.6" font-size="3.5" fill="#1e1e1e" stroke="#1e1e1e" font-weight="bold" text-anchor="middle">smyd3</text><text x="81.5" y="202.8" font-size="4.4" fill="#1e1e1e" stroke="#1e1e1e" font-weight="bold" text-anchor="middle">fasn4</text><text x="81.5" y="206.6" font-size="3.6" fill="#1e1e1e" stroke="#1e1e1e" font-weight="bold" text-anchor="middle">eng —</text><text x="81.5" y="210.2" font-size="4.2" fill="#1e1e1e" stroke="#1e1e1e" font-weight="bold" text-anchor="middle">fabp4</text><text x="81.5" y="213.2" font-size="3.2" fill="#1e1e1e" stroke="#1e1e1e" font-weight="normal" text-anchor="middle">wnt11 —</text><text x="98" y="162.4" font-size="2.8" fill="#c0503e" stroke="#c0503e" font-weight="normal" text-anchor="middle">sp1 hx</text><text x="98" y="165.8" font-size="3.5" fill="#c0503e" stroke="#c0503e" font-weight="normal" text-anchor="middle">pycard</text><text x="98" y="170.6" font-size="5" fill="#c0503e" stroke="#c0503e" font-weight="bold" text-anchor="middle">igf1</text><text x="98" y="173.8" font-size="3.2" fill="#c0503e" stroke="#c0503e" font-weight="normal" text-anchor="middle">mmp9</text><text x="98" y="177" font-size="3.2" fill="#c0503e" stroke="#c0503e" font-weight="normal" text-anchor="middle">fzd7 fx</text><text x="98" y="180.5" font-size="3.5" fill="#c0503e" stroke="#c0503e" font-weight="normal" text-anchor="middle">ptgs1</text><text x="98" y="184.3" font-size="3.2" fill="#c0503e" stroke="#c0503e" font-weight="normal" text-anchor="middle">sox2</text><text x="98" y="187.8" font-size="3.2" fill="#c0503e" stroke="#c0503e" font-weight="normal" text-anchor="middle">hoxa9</text><text x="98" y="194.2" font-size="4.4" fill="#c0503e" stroke="#c0503e" font-weight="bold" text-anchor="middle">dbcar1</text><text x="98" y="197.6" font-size="3.4" fill="#c0503e" stroke="#c0503e" font-weight="normal" text-anchor="middle">ptgs2</text><text x="98" y="201" font-size="3.4" fill="#c0503e" stroke="#c0503e" font-weight="normal" text-anchor="middle">wnt2</text><text x="68.0" y="170.1" font-size="2.8" fill="#c4c4c4" stroke="#c4c4c4" font-weight="normal" text-anchor="middle" opacity="1.0">odc</text><text x="68.0" y="173.4" font-size="2.8" fill="#c4c4c4" stroke="#c4c4c4" font-weight="normal" text-anchor="middle" opacity="1.0">mbw</text><text x="68.0" y="176.7" font-size="2.8" fill="#c4c4c4" stroke="#c4c4c4" font-weight="normal" text-anchor="middle" opacity="1.0">lil</text><text x="68.0" y="180.0" font-size="2.8" fill="#c4c4c4" stroke="#c4c4c4" font-weight="normal" text-anchor="middle" opacity="1.0">run</text><text x="68.0" y="183.3" font-size="2.8" fill="#c4c4c4" stroke="#c4c4c4" font-weight="normal" text-anchor="middle" opacity="1.0">sr</text><text x="68.0" y="186.6" font-size="2.8" fill="#c4c4c4" stroke="#c4c4c4" font-weight="normal" text-anchor="middle" opacity="1.0">an</text><text x="68.0" y="189.9" font-size="2.8" fill="#c4c4c4" stroke="#c4c4c4" font-weight="normal" text-anchor="middle" opacity="1.0">er</text><text x="275.3" y="173.8" font-size="3" fill="#1e1e1e" stroke="#1e1e1e" font-weight="normal" text-anchor="middle">ep/6</text><text x="275.3" y="177.9" font-size="4" fill="#1e1e1e" stroke="#1e1e1e" font-weight="bold" text-anchor="middle">mtrkl1</text><text x="275.3" y="180.6" font-size="2.4" fill="#1e1e1e" stroke="#1e1e1e" font-weight="normal" text-anchor="middle">ba2 fc</text><text x="275.3" y="182.6" font-size="2.4" fill="#1e1e1e" stroke="#1e1e1e" font-weight="normal" text-anchor="middle">kfx tp</text><text x="275.3" y="186.6" font-size="3.8" fill="#1e1e1e" stroke="#1e1e1e" font-weight="bold" text-anchor="middle">mcu2</text><text x="275.3" y="190.7" font-size="4" fill="#1e1e1e" stroke="#1e1e1e" font-weight="bold" text-anchor="middle">cd3</text><text x="275.3" y="195" font-size="5" fill="#1e1e1e" stroke="#1e1e1e" font-weight="bold" text-anchor="middle">cd5</text><text x="275.3" y="199.6" font-size="5" fill="#1e1e1e" stroke="#1e1e1e" font-weight="bold" text-anchor="middle">cxr7</text><text x="275.3" y="203.2" font-size="4" fill="#1e1e1e" stroke="#1e1e1e" font-weight="bold" text-anchor="middle">hes1</text><text x="275.3" y="207.3" font-size="4" fill="#1e1e1e" stroke="#1e1e1e" font-weight="bold" text-anchor="middle">cd14</text><text x="290.5" y="178.3" font-size="4.6" fill="#1e1e1e" stroke="#1e1e1e" font-weight="bold" text-anchor="middle">cxcr4</text><text x="290.5" y="182.5" font-size="3.8" fill="#1e1e1e" stroke="#1e1e1e" font-weight="bold" text-anchor="middle">mrpco1</text><text x="290.5" y="185.9" font-size="3.8" fill="#1e1e1e" stroke="#1e1e1e" font-weight="bold" text-anchor="middle">cd52</text><text x="290.5" y="189.8" font-size="3.8" fill="#1e1e1e" stroke="#1e1e1e" font-weight="bold" text-anchor="middle">gnc15</text><text x="290.5" y="193.2" font-size="3.6" fill="#1e1e1e" stroke="#1e1e1e" font-weight="bold" text-anchor="middle">lgals</text><text x="290.5" y="196.7" font-size="3.6" fill="#1e1e1e" stroke="#1e1e1e" font-weight="bold" text-anchor="middle">csn</text><text x="290.5" y="199.7" font-size="3.6" fill="#1e1e1e" stroke="#1e1e1e" font-weight="bold" text-anchor="middle">tlr1</text><text x="290.5" y="203.6" font-size="3.6" fill="#1e1e1e" stroke="#1e1e1e" font-weight="bold" text-anchor="middle">bcl2 —</text><text x="290.5" y="206.4" font-size="2.6" fill="#1e1e1e" stroke="#1e1e1e" font-weight="normal" text-anchor="middle">— hx —</text><text x="311.5" y="226.4" font-size="2.4" fill="#1e1e1e" stroke="#1e1e1e" font-weight="normal" text-anchor="middle">— pfgf</text><text x="311.5" y="228.8" font-size="2.6" fill="#1e1e1e" stroke="#1e1e1e" font-weight="normal" text-anchor="middle">pax</text><text x="311.5" y="231.2" font-size="2.8" fill="#1e1e1e" stroke="#1e1e1e" font-weight="bold" text-anchor="middle">cxd</text><text x="311.5" y="235.3" font-size="4.6" fill="#1e1e1e" stroke="#1e1e1e" font-weight="bold" text-anchor="middle">ipf7</text><text x="311.5" y="238.9" font-size="3" fill="#1e1e1e" stroke="#1e1e1e" font-weight="bold" text-anchor="middle">cts</text><text x="311.5" y="242.9" font-size="4.6" fill="#1e1e1e" stroke="#1e1e1e" font-weight="bold" text-anchor="middle">il33</text><text x="311.5" y="247.7" font-size="4.6" fill="#1e1e1e" stroke="#1e1e1e" font-weight="bold" text-anchor="middle">stat1</text><text x="311.5" y="252.5" font-size="4" fill="#1e1e1e" stroke="#1e1e1e" font-weight="bold" text-anchor="middle">nasl</text><text x="311.5" y="256" font-size="3.8" fill="#1e1e1e" stroke="#1e1e1e" font-weight="bold" text-anchor="middle">tlr3</text><text x="311.5" y="259.8" font-size="3.8" fill="#1e1e1e" stroke="#1e1e1e" font-weight="bold" text-anchor="middle">tlr4</text><text x="311.5" y="263.4" font-size="3.8" fill="#1e1e1e" stroke="#1e1e1e" font-weight="bold" text-anchor="middle">tlr2</text><text x="311.5" y="267.8" font-size="5" fill="#1e1e1e" stroke="#1e1e1e" font-weight="bold" text-anchor="middle">ifg15</text><text x="324.3" y="230.1" font-size="2.8" fill="#d89080" stroke="#d89080" font-weight="normal" text-anchor="middle" opacity="1.0">dfcw</text><text x="324.3" y="233.2" font-size="2.8" fill="#d89080" stroke="#d89080" font-weight="normal" text-anchor="middle" opacity="1.0">poupslt</text><text x="324.3" y="236.3" font-size="2.8" fill="#d89080" stroke="#d89080" font-weight="normal" text-anchor="middle" opacity="1.0">eoncoke</text><text x="324.3" y="239.4" font-size="2.8" fill="#d89080" stroke="#d89080" font-weight="normal" text-anchor="middle" opacity="1.0">gzsgdd</text><text x="324.3" y="242.5" font-size="2.8" fill="#d89080" stroke="#d89080" font-weight="normal" text-anchor="middle" opacity="1.0">iwmb</text><text x="324.3" y="245.6" font-size="2.8" fill="#d89080" stroke="#d89080" font-weight="normal" text-anchor="middle" opacity="1.0">aehhi</text><text x="324.3" y="248.7" font-size="2.8" fill="#d89080" stroke="#d89080" font-weight="normal" text-anchor="middle" opacity="1.0">xclxits</text><text x="324.3" y="251.8" font-size="2.8" fill="#d89080" stroke="#d89080" font-weight="normal" text-anchor="middle" opacity="1.0">cdknxi</text><text x="324.3" y="254.9" font-size="2.8" fill="#d89080" stroke="#d89080" font-weight="normal" text-anchor="middle" opacity="1.0">xxxrgit</text><text x="324.3" y="258.0" font-size="2.8" fill="#d89080" stroke="#d89080" font-weight="normal" text-anchor="middle" opacity="1.0">gxioroi</text><text x="324.3" y="261.1" font-size="2.8" fill="#d89080" stroke="#d89080" font-weight="normal" text-anchor="middle" opacity="1.0">tmzs</text><text x="324.3" y="264.2" font-size="2.8" fill="#d89080" stroke="#d89080" font-weight="normal" text-anchor="middle" opacity="1.0">cpoe</text><text x="372.0" y="227.1" font-size="2.8" fill="#e6dc8a" stroke="#e6dc8a" font-weight="normal" text-anchor="middle" opacity="1.0">pp</text><text x="372.0" y="230.2" font-size="2.8" fill="#e6dc8a" stroke="#e6dc8a" font-weight="normal" text-anchor="middle" opacity="1.0">nm</text><text x="372.0" y="233.3" font-size="2.8" fill="#e6dc8a" stroke="#e6dc8a" font-weight="normal" text-anchor="middle" opacity="1.0">td</text><text x="372.0" y="236.4" font-size="2.8" fill="#e6dc8a" stroke="#e6dc8a" font-weight="normal" text-anchor="middle" opacity="1.0">ibz</text><text x="372.0" y="239.5" font-size="2.8" fill="#e6dc8a" stroke="#e6dc8a" font-weight="normal" text-anchor="middle" opacity="1.0">lh</text><text x="372.0" y="242.6" font-size="2.8" fill="#e6dc8a" stroke="#e6dc8a" font-weight="normal" text-anchor="middle" opacity="1.0">fe</text><text x="372.0" y="245.7" font-size="2.8" fill="#e6dc8a" stroke="#e6dc8a" font-weight="normal" text-anchor="middle" opacity="1.0">mxo</text><text x="372.0" y="248.8" font-size="2.8" fill="#e6dc8a" stroke="#e6dc8a" font-weight="normal" text-anchor="middle" opacity="1.0">np</text><text x="372.0" y="251.9" font-size="2.8" fill="#e6dc8a" stroke="#e6dc8a" font-weight="normal" text-anchor="middle" opacity="1.0">fxx</text><text x="372.0" y="255.0" font-size="2.8" fill="#e6dc8a" stroke="#e6dc8a" font-weight="normal" text-anchor="middle" opacity="1.0">wn</text><text x="372.0" y="258.1" font-size="2.8" fill="#e6dc8a" stroke="#e6dc8a" font-weight="normal" text-anchor="middle" opacity="1.0">fgfa</text><text x="372.0" y="261.2" font-size="2.8" fill="#e6dc8a" stroke="#e6dc8a" font-weight="normal" text-anchor="middle" opacity="1.0">px</text><text x="372.0" y="264.3" font-size="2.8" fill="#e6dc8a" stroke="#e6dc8a" font-weight="normal" text-anchor="middle" opacity="1.0">ewt</text><text x="384.5" y="241.2" font-size="3" fill="#4a62b8" stroke="#4a62b8" font-weight="bold" text-anchor="middle" opacity="1.0">mscn</text><text x="384.5" y="244.6" font-size="3" fill="#4a62b8" stroke="#4a62b8" font-weight="normal" text-anchor="middle" opacity="1.0">dmuw</text><text x="384.5" y="247.9" font-size="3" fill="#4a62b8" stroke="#4a62b8" font-weight="normal" text-anchor="middle" opacity="1.0">fhtzp</text><text x="384.5" y="251.2" font-size="3" fill="#4a62b8" stroke="#4a62b8" font-weight="normal" text-anchor="middle" opacity="1.0">ghtbf</text><text x="384.5" y="254.5" font-size="3" fill="#4a62b8" stroke="#4a62b8" font-weight="bold" text-anchor="middle" opacity="1.0">ugxoc</text><text x="343.0" y="229.9" font-size="2.6" fill="#9a9a9a" stroke="#9a9a9a" font-weight="normal" text-anchor="middle" opacity="1.0">xgsg</text><text x="343.0" y="233.1" font-size="2.6" fill="#9a9a9a" stroke="#9a9a9a" font-weight="normal" text-anchor="middle" opacity="1.0">kppafd</text><text x="343.0" y="236.3" font-size="2.6" fill="#9a9a9a" stroke="#9a9a9a" font-weight="normal" text-anchor="middle" opacity="1.0">xtcpu</text><text x="355.0" y="230.9" font-size="2.6" fill="#c4c4c4" stroke="#c4c4c4" font-weight="normal" text-anchor="middle" opacity="1.0">fkti</text><text x="335.4" y="262.1" font-size="2.8" fill="#d89080" stroke="#d89080" font-weight="normal" text-anchor="middle" opacity="1.0">udeh</text><text x="335.4" y="265.3" font-size="2.8" fill="#d89080" stroke="#d89080" font-weight="normal" text-anchor="middle" opacity="1.0">ofg</text><text x="335.4" y="268.5" font-size="2.8" fill="#d89080" stroke="#d89080" font-weight="normal" text-anchor="middle" opacity="1.0">ptgli</text><text x="335.4" y="271.7" font-size="2.8" fill="#d89080" stroke="#d89080" font-weight="normal" text-anchor="middle" opacity="1.0">fii</text><text x="335.4" y="274.9" font-size="2.8" fill="#d89080" stroke="#d89080" font-weight="normal" text-anchor="middle" opacity="1.0">ruk</text><text x="345.3" y="262.1" font-size="2.8" fill="#9a9a9a" stroke="#9a9a9a" font-weight="normal" text-anchor="middle" opacity="1.0">kcxs</text><text x="345.3" y="265.3" font-size="2.8" fill="#9a9a9a" stroke="#9a9a9a" font-weight="normal" text-anchor="middle" opacity="1.0">npbf</text><text x="345.3" y="268.5" font-size="2.8" fill="#9a9a9a" stroke="#9a9a9a" font-weight="normal" text-anchor="middle" opacity="1.0">ubzka</text><text x="345.3" y="271.7" font-size="2.8" fill="#9a9a9a" stroke="#9a9a9a" font-weight="normal" text-anchor="middle" opacity="1.0">uosl</text><text x="345.3" y="274.9" font-size="2.8" fill="#9a9a9a" stroke="#9a9a9a" font-weight="normal" text-anchor="middle" opacity="1.0">esstif</text><text x="353.8" y="262.1" font-size="2.8" fill="#9a9a9a" stroke="#9a9a9a" font-weight="normal" text-anchor="middle" opacity="1.0">flaru</text><text x="353.8" y="265.3" font-size="2.8" fill="#9a9a9a" stroke="#9a9a9a" font-weight="normal" text-anchor="middle" opacity="1.0">gcfor</text><text x="353.8" y="268.5" font-size="2.8" fill="#9a9a9a" stroke="#9a9a9a" font-weight="normal" text-anchor="middle" opacity="1.0">nctnp</text><text x="353.8" y="271.7" font-size="2.8" fill="#9a9a9a" stroke="#9a9a9a" font-weight="normal" text-anchor="middle" opacity="1.0">bkia</text><text x="353.8" y="274.9" font-size="2.8" fill="#9a9a9a" stroke="#9a9a9a" font-weight="normal" text-anchor="middle" opacity="1.0">uapn</text><text x="364.0" y="262.1" font-size="2.8" fill="#555" stroke="#555" font-weight="normal" text-anchor="middle" opacity="1.0">eagpp</text><text x="364.0" y="265.3" font-size="2.8" fill="#555" stroke="#555" font-weight="normal" text-anchor="middle" opacity="1.0">wpw</text><text x="364.0" y="268.5" font-size="2.8" fill="#555" stroke="#555" font-weight="normal" text-anchor="middle" opacity="1.0">kmkp</text><text x="364.0" y="271.7" font-size="2.8" fill="#555" stroke="#555" font-weight="normal" text-anchor="middle" opacity="1.0">rpsi</text><text x="364.0" y="274.9" font-size="2.8" fill="#555" stroke="#555" font-weight="normal" text-anchor="middle" opacity="1.0">ffx</text><text x="398.0" y="260.1" font-size="2.8" fill="#9a9a9a" stroke="#9a9a9a" font-weight="normal" text-anchor="middle" opacity="1.0">lot</text><text x="398.0" y="263.3" font-size="2.8" fill="#9a9a9a" stroke="#9a9a9a" font-weight="normal" text-anchor="middle" opacity="1.0">tgaxd</text><text x="398.0" y="266.5" font-size="2.8" fill="#9a9a9a" stroke="#9a9a9a" font-weight="normal" text-anchor="middle" opacity="1.0">tulk</text><text x="398.0" y="269.7" font-size="2.8" fill="#9a9a9a" stroke="#9a9a9a" font-weight="normal" text-anchor="middle" opacity="1.0">iesulz</text><text x="398.0" y="272.9" font-size="2.8" fill="#9a9a9a" stroke="#9a9a9a" font-weight="normal" text-anchor="middle" opacity="1.0">crfl</text><text x="407.0" y="259.1" font-size="2.8" fill="#9a9a9a" stroke="#9a9a9a" font-weight="normal" text-anchor="middle" opacity="1.0">ils</text><text x="407.0" y="262.3" font-size="2.8" fill="#9a9a9a" stroke="#9a9a9a" font-weight="normal" text-anchor="middle" opacity="1.0">iiklp</text><text x="407.0" y="265.5" font-size="2.8" fill="#9a9a9a" stroke="#9a9a9a" font-weight="normal" text-anchor="middle" opacity="1.0">nfufxz</text><text x="407.0" y="268.7" font-size="2.8" fill="#9a9a9a" stroke="#9a9a9a" font-weight="normal" text-anchor="middle" opacity="1.0">hwafcn</text><text x="407.0" y="271.9" font-size="2.8" fill="#9a9a9a" stroke="#9a9a9a" font-weight="normal" text-anchor="middle" opacity="1.0">mxoo</text><text x="407.0" y="275.1" font-size="2.8" fill="#9a9a9a" stroke="#9a9a9a" font-weight="normal" text-anchor="middle" opacity="1.0">uzdewh</text><text x="337.5" y="280.1" font-size="2.8" fill="#9a9a9a" stroke="#9a9a9a" font-weight="normal" text-anchor="middle" opacity="1.0">aww</text><text x="337.5" y="283.3" font-size="2.8" fill="#9a9a9a" stroke="#9a9a9a" font-weight="normal" text-anchor="middle" opacity="1.0">ifat</text><text x="345.3" y="280.1" font-size="2.8" fill="#9a9a9a" stroke="#9a9a9a" font-weight="normal" text-anchor="middle" opacity="1.0">sthdww</text><text x="345.3" y="283.3" font-size="2.8" fill="#9a9a9a" stroke="#9a9a9a" font-weight="normal" text-anchor="middle" opacity="1.0">mwuml</text><text x="356.0" y="280.1" font-size="2.8" fill="#9a9a9a" stroke="#9a9a9a" font-weight="normal" text-anchor="middle" opacity="1.0">ilowh</text><text x="356.0" y="283.3" font-size="2.8" fill="#9a9a9a" stroke="#9a9a9a" font-weight="normal" text-anchor="middle" opacity="1.0">mpt</text><text x="364.0" y="280.1" font-size="2.8" fill="#555" stroke="#555" font-weight="normal" text-anchor="middle" opacity="1.0">ium</text><text x="364.0" y="283.3" font-size="2.8" fill="#555" stroke="#555" font-weight="normal" text-anchor="middle" opacity="1.0">iknlr</text><text x="372.3" y="280.1" font-size="2.8" fill="#d89080" stroke="#d89080" font-weight="normal" text-anchor="middle" opacity="1.0">excwo</text><text x="372.3" y="283.3" font-size="2.8" fill="#d89080" stroke="#d89080" font-weight="normal" text-anchor="middle" opacity="1.0">oseek</text><text x="394.6" y="280.1" font-size="2.8" fill="#e6dc8a" stroke="#e6dc8a" font-weight="normal" text-anchor="middle" opacity="1.0">kuxbgz</text><text x="394.6" y="283.3" font-size="2.8" fill="#e6dc8a" stroke="#e6dc8a" font-weight="normal" text-anchor="middle" opacity="1.0">uealsod</text><text x="408.0" y="280.1" font-size="2.8" fill="#4a62b8" stroke="#4a62b8" font-weight="normal" text-anchor="middle" opacity="1.0">cuutr</text><text x="408.0" y="283.3" font-size="2.8" fill="#4a62b8" stroke="#4a62b8" font-weight="normal" text-anchor="middle" opacity="1.0">lxxdx</text><text x="333.5" y="293.1" font-size="2.8" fill="#e6dc8a" stroke="#e6dc8a" font-weight="normal" text-anchor="middle" opacity="1.0">owf</text><text x="333.5" y="296.3" font-size="2.8" fill="#e6dc8a" stroke="#e6dc8a" font-weight="normal" text-anchor="middle" opacity="1.0">psn</text><text x="333.5" y="299.5" font-size="2.8" fill="#e6dc8a" stroke="#e6dc8a" font-weight="normal" text-anchor="middle" opacity="1.0">zega</text><text x="363.0" y="293.1" font-size="2.8" fill="#d89080" stroke="#d89080" font-weight="normal" text-anchor="middle" opacity="1.0">llenm</text><text x="363.0" y="296.3" font-size="2.8" fill="#d89080" stroke="#d89080" font-weight="normal" text-anchor="middle" opacity="1.0">nem</text><text x="363.0" y="299.5" font-size="2.8" fill="#d89080" stroke="#d89080" font-weight="normal" text-anchor="middle" opacity="1.0">rkti</text><text x="371.3" y="293.1" font-size="2.8" fill="#c4c4c4" stroke="#c4c4c4" font-weight="normal" text-anchor="middle" opacity="1.0">srihe</text><text x="371.3" y="296.3" font-size="2.8" fill="#c4c4c4" stroke="#c4c4c4" font-weight="normal" text-anchor="middle" opacity="1.0">kucob</text><text x="371.3" y="299.5" font-size="2.8" fill="#c4c4c4" stroke="#c4c4c4" font-weight="normal" text-anchor="middle" opacity="1.0">zftb</text><text x="379.5" y="293.1" font-size="2.8" fill="#9a9a9a" stroke="#9a9a9a" font-weight="normal" text-anchor="middle" opacity="1.0">ktsa</text><text x="379.5" y="296.3" font-size="2.8" fill="#9a9a9a" stroke="#9a9a9a" font-weight="normal" text-anchor="middle" opacity="1.0">pkb</text><text x="379.5" y="299.5" font-size="2.8" fill="#9a9a9a" stroke="#9a9a9a" font-weight="normal" text-anchor="middle" opacity="1.0">aagu</text><text x="388.0" y="295.1" font-size="2.8" fill="#9a9a9a" stroke="#9a9a9a" font-weight="normal" text-anchor="middle" opacity="1.0">dxo</text><text x="388.0" y="298.3" font-size="2.8" fill="#9a9a9a" stroke="#9a9a9a" font-weight="normal" text-anchor="middle" opacity="1.0">uio</text><text x="396.0" y="295.1" font-size="2.8" fill="#9a9a9a" stroke="#9a9a9a" font-weight="normal" text-anchor="middle" opacity="1.0">bdru</text><text x="396.0" y="298.3" font-size="2.8" fill="#9a9a9a" stroke="#9a9a9a" font-weight="normal" text-anchor="middle" opacity="1.0">hdh</text><text x="405.0" y="295.1" font-size="2.8" fill="#e6dc8a" stroke="#e6dc8a" font-weight="normal" text-anchor="middle" opacity="1.0">bgc</text><text x="405.0" y="298.3" font-size="2.8" fill="#e6dc8a" stroke="#e6dc8a" font-weight="normal" text-anchor="middle" opacity="1.0">bgc</text><text x="414.0" y="294.1" font-size="2.8" fill="#4a62b8" stroke="#4a62b8" font-weight="normal" text-anchor="middle" opacity="1.0">clt</text><text x="414.0" y="297.3" font-size="2.8" fill="#4a62b8" stroke="#4a62b8" font-weight="normal" text-anchor="middle" opacity="1.0">bhix</text><text x="333.0" y="306.1" font-size="2.8" fill="#4a62b8" stroke="#4a62b8" font-weight="normal" text-anchor="middle" opacity="1.0">xdf</text><text x="341.0" y="306.1" font-size="2.8" fill="#9a9a9a" stroke="#9a9a9a" font-weight="normal" text-anchor="middle" opacity="1.0">rlhs</text><text x="350.0" y="306.1" font-size="2.8" fill="#9a9a9a" stroke="#9a9a9a" font-weight="normal" text-anchor="middle" opacity="1.0">tfia</text><text x="357.0" y="306.1" font-size="2.8" fill="#555" stroke="#555" font-weight="normal" text-anchor="middle" opacity="1.0">oltz</text><text x="364.0" y="306.1" font-size="2.8" fill="#9a9a9a" stroke="#9a9a9a" font-weight="normal" text-anchor="middle" opacity="1.0">xasb</text><text x="372.0" y="306.1" font-size="2.8" fill="#5d8a2a" stroke="#5d8a2a" font-weight="normal" text-anchor="middle" opacity="1.0">mah</text><text x="382.0" y="306.1" font-size="2.8" fill="#e6dc8a" stroke="#e6dc8a" font-weight="normal" text-anchor="middle" opacity="1.0">pokerk</text><text x="392.0" y="306.1" font-size="2.8" fill="#4a62b8" stroke="#4a62b8" font-weight="normal" text-anchor="middle" opacity="1.0">zzshfb</text><text x="402.0" y="306.1" font-size="2.8" fill="#9a9a9a" stroke="#9a9a9a" font-weight="normal" text-anchor="middle" opacity="1.0">uhtbb</text><text x="413.0" y="306.1" font-size="2.8" fill="#9a9a9a" stroke="#9a9a9a" font-weight="normal" text-anchor="middle" opacity="1.0">wmd</text><text x="312.0" y="300.1" font-size="2.8" fill="#5d8a2a" stroke="#5d8a2a" font-weight="normal" text-anchor="middle" opacity="1.0">hoaht</text><text x="312.0" y="303.3" font-size="2.8" fill="#5d8a2a" stroke="#5d8a2a" font-weight="normal" text-anchor="middle" opacity="1.0">hat</text><text x="326.0" y="300.1" font-size="2.8" fill="#d89080" stroke="#d89080" font-weight="normal" text-anchor="middle" opacity="1.0">xxol</text><text x="326.0" y="303.3" font-size="2.8" fill="#d89080" stroke="#d89080" font-weight="normal" text-anchor="middle" opacity="1.0">zcdkd</text><text x="300.0" y="290.1" font-size="2.8" fill="#4a62b8" stroke="#4a62b8" font-weight="normal" text-anchor="middle" opacity="1.0">tlw</text><text x="300.0" y="293.3" font-size="2.8" fill="#4a62b8" stroke="#4a62b8" font-weight="normal" text-anchor="middle" opacity="1.0">hsa</text><text x="322" y="308.5" font-size="3" fill="#c0503e" stroke="#c0503e" font-weight="normal" text-anchor="middle" opacity="1">xxprsixn</text><text x="334" y="316.3" font-size="2.4" fill="#1e1e1e" stroke="#1e1e1e" font-weight="normal" text-anchor="middle">— ab —</text><text x="334" y="318.8" font-size="3" fill="#1e1e1e" stroke="#1e1e1e" font-weight="bold" text-anchor="middle">abcdefg</text><text x="334" y="321.8" font-size="3.6" fill="#1e1e1e" stroke="#1e1e1e" font-weight="bold" text-anchor="middle">cdkq</text><text x="334" y="324.3" font-size="2.4" fill="#1e1e1e" stroke="#1e1e1e" font-weight="normal" text-anchor="middle">— fs</text><text x="334" y="327" font-size="3" fill="#1e1e1e" stroke="#1e1e1e" font-weight="bold" text-anchor="middle">gcs clc</text><text x="334" y="329.8" font-size="3" fill="#1e1e1e" stroke="#1e1e1e" font-weight="bold" text-anchor="middle">iscr fx</text><text x="334" y="332.2" font-size="3" fill="#1e1e1e" stroke="#1e1e1e" font-weight="bold" text-anchor="middle">rsd</text><text x="334" y="335" font-size="3.6" fill="#1e1e1e" stroke="#1e1e1e" font-weight="bold" text-anchor="middle">lcl2</text><text x="334" y="337.7" font-size="3" fill="#1e1e1e" stroke="#1e1e1e" font-weight="normal" text-anchor="middle">acx1 fxl</text><text x="334" y="340.5" font-size="3" fill="#1e1e1e" stroke="#1e1e1e" font-weight="bold" text-anchor="middle">smd3</text><text x="334" y="342.8" font-size="3" fill="#1e1e1e" stroke="#1e1e1e" font-weight="bold" text-anchor="middle">lnx kh</text><text x="334" y="345.3" font-size="3" fill="#1e1e1e" stroke="#1e1e1e" font-weight="bold" text-anchor="middle">lux mxa</text><text x="334" y="347.4" font-size="2.6" fill="#1e1e1e" stroke="#1e1e1e" font-weight="bold" text-anchor="middle">ecnx</text><text x="334" y="350.1" font-size="3.2" fill="#1e1e1e" stroke="#1e1e1e" font-weight="bold" text-anchor="middle">hsnx</text><text x="346.4" y="319" font-size="3" fill="#1e1e1e" stroke="#1e1e1e" font-weight="bold" text-anchor="middle">abdxse</text><text x="346.4" y="321.8" font-size="3" fill="#1e1e1e" stroke="#1e1e1e" font-weight="bold" text-anchor="middle">egskuxt</text><text x="346.4" y="324.3" font-size="2.4" fill="#1e1e1e" stroke="#1e1e1e" font-weight="normal" text-anchor="middle">— nd</text><text x="346.4" y="326.3" font-size="2.4" fill="#1e1e1e" stroke="#1e1e1e" font-weight="normal" text-anchor="middle">ln</text><text x="346.4" y="329.4" font-size="3.6" fill="#1e1e1e" stroke="#1e1e1e" font-weight="bold" text-anchor="middle">ltl2</text><text x="346.4" y="332.9" font-size="3.2" fill="#1e1e1e" stroke="#1e1e1e" font-weight="bold" text-anchor="middle">srdcl</text><text x="346.4" y="335.3" font-size="2.6" fill="#1e1e1e" stroke="#1e1e1e" font-weight="bold" text-anchor="middle">nglx</text><text x="346.4" y="338.7" font-size="3.2" fill="#1e1e1e" stroke="#1e1e1e" font-weight="bold" text-anchor="middle">xchd</text><text x="346.4" y="341.8" font-size="3.2" fill="#1e1e1e" stroke="#1e1e1e" font-weight="bold" text-anchor="middle">hxbsl</text><text x="264.0" y="321.6" font-size="2.8" fill="#e6dc8a" stroke="#e6dc8a" font-weight="normal" text-anchor="middle" opacity="1.0">zbknh</text><text x="264.0" y="324.9" font-size="2.8" fill="#e6dc8a" stroke="#e6dc8a" font-weight="normal" text-anchor="middle" opacity="1.0">ekfb</text><text x="264.0" y="328.2" font-size="2.8" fill="#e6dc8a" stroke="#e6dc8a" font-weight="normal" text-anchor="middle" opacity="1.0">uhlhx</text><text x="264.0" y="331.5" font-size="2.8" fill="#e6dc8a" stroke="#e6dc8a" font-weight="normal" text-anchor="middle" opacity="1.0">isnzc</text><text x="264.0" y="334.8" font-size="2.8" fill="#e6dc8a" stroke="#e6dc8a" font-weight="normal" text-anchor="middle" opacity="1.0">oce</text><text x="264.0" y="338.1" font-size="2.8" fill="#e6dc8a" stroke="#e6dc8a" font-weight="normal" text-anchor="middle" opacity="1.0">ubon</text><text x="295.0" y="329.1" font-size="2.8" fill="#888" stroke="#888" font-weight="normal" text-anchor="middle" opacity="1.0">gagpb</text><text x="295.0" y="332.2" font-size="2.8" fill="#888" stroke="#888" font-weight="normal" text-anchor="middle" opacity="1.0">gcdaplw</text><text x="309.5" y="329.1" font-size="2.8" fill="#c4c4c4" stroke="#c4c4c4" font-weight="normal" text-anchor="middle" opacity="1.0">dhbluo</text><text x="309.5" y="332.2" font-size="2.8" fill="#c4c4c4" stroke="#c4c4c4" font-weight="normal" text-anchor="middle" opacity="1.0">rtmtxrf</text><text x="322.0" y="329.1" font-size="2.8" fill="#999" stroke="#999" font-weight="normal" text-anchor="middle" opacity="1.0">wmft</text><text x="322.0" y="332.2" font-size="2.8" fill="#999" stroke="#999" font-weight="normal" text-anchor="middle" opacity="1.0">infw</text><text x="60" y="154.5" font-size="2.4" fill="#888" stroke="#888" font-weight="normal" text-anchor="middle" opacity="1">xxxxxx xxxx</text><text x="132.5" y="182.1" font-size="2.8" fill="#555" stroke="#555" font-weight="normal" text-anchor="middle" opacity="1.0">rfar</text><text x="132.5" y="185.3" font-size="2.8" fill="#555" stroke="#555" font-weight="normal" text-anchor="middle" opacity="1.0">pxfo</text><text x="143.0" y="182.1" font-size="2.8" fill="#d89080" stroke="#d89080" font-weight="normal" text-anchor="middle" opacity="1.0">aoow</text><text x="143.0" y="185.3" font-size="2.8" fill="#d89080" stroke="#d89080" font-weight="normal" text-anchor="middle" opacity="1.0">xrbw</text><text x="151.0" y="182.1" font-size="2.8" fill="#9a9a9a" stroke="#9a9a9a" font-weight="normal" text-anchor="middle" opacity="1.0">dc</text><text x="151.0" y="185.3" font-size="2.8" fill="#9a9a9a" stroke="#9a9a9a" font-weight="normal" text-anchor="middle" opacity="1.0">xln</text><text x="161.0" y="182.1" font-size="2.8" fill="#e6dc8a" stroke="#e6dc8a" font-weight="normal" text-anchor="middle" opacity="1.0">gmda</text><text x="161.0" y="185.3" font-size="2.8" fill="#e6dc8a" stroke="#e6dc8a" font-weight="normal" text-anchor="middle" opacity="1.0">mdpken</text><text x="172.5" y="182.1" font-size="2.8" fill="#7a8ab8" stroke="#7a8ab8" font-weight="normal" text-anchor="middle" opacity="1.0">kxu</text><text x="172.5" y="185.3" font-size="2.8" fill="#7a8ab8" stroke="#7a8ab8" font-weight="normal" text-anchor="middle" opacity="1.0">wat</text><text x="179.3" y="182.1" font-size="2.8" fill="#9a9a9a" stroke="#9a9a9a" font-weight="normal" text-anchor="middle" opacity="1.0">kn</text><text x="179.3" y="185.3" font-size="2.8" fill="#9a9a9a" stroke="#9a9a9a" font-weight="normal" text-anchor="middle" opacity="1.0">uo</text><text x="184.3" y="182.1" font-size="2.8" fill="#9a9a9a" stroke="#9a9a9a" font-weight="normal" text-anchor="middle" opacity="1.0">wu</text><text x="184.3" y="185.3" font-size="2.8" fill="#9a9a9a" stroke="#9a9a9a" font-weight="normal" text-anchor="middle" opacity="1.0">zx</text><text x="190.5" y="182.1" font-size="2.8" fill="#c4c4c4" stroke="#c4c4c4" font-weight="normal" text-anchor="middle" opacity="1.0">lu</text><text x="190.5" y="185.3" font-size="2.8" fill="#c4c4c4" stroke="#c4c4c4" font-weight="normal" text-anchor="middle" opacity="1.0">lp</text><text x="149.5" y="193.2" font-size="2.8" fill="#d8c850" stroke="#d8c850" font-weight="normal" text-anchor="middle">suoo</text><text x="149.5" y="196.3" font-size="3.4" fill="#d8c850" stroke="#d8c850" font-weight="bold" text-anchor="middle">anbnstn</text><text x="149.5" y="198.8" font-size="2.4" fill="#d8c850" stroke="#d8c850" font-weight="normal" text-anchor="middle">ssd</text><text x="149.5" y="203.3" font-size="4.4" fill="#d8c850" stroke="#d8c850" font-weight="bold" text-anchor="middle">beast</text><text x="149.5" y="207.3" font-size="3.8" fill="#d8c850" stroke="#d8c850" font-weight="normal" text-anchor="middle">saved</text><text x="149.5" y="209.8" font-size="2.4" fill="#d8c850" stroke="#d8c850" font-weight="normal" text-anchor="middle">xa</text><text x="70.0" y="219.1" font-size="2.8" fill="#d07060" stroke="#d07060" font-weight="normal" text-anchor="middle" opacity="1.0">dexwrf</text><text x="70.0" y="221.9" font-size="2.8" fill="#d07060" stroke="#d07060" font-weight="normal" text-anchor="middle" opacity="1.0">igosr</text><text x="70.0" y="224.7" font-size="2.8" fill="#d07060" stroke="#d07060" font-weight="normal" text-anchor="middle" opacity="1.0">iwzwauhw</text><text x="70.0" y="227.5" font-size="2.8" fill="#d07060" stroke="#d07060" font-weight="normal" text-anchor="middle" opacity="1.0">fobtpsis</text><text x="70.0" y="230.3" font-size="2.8" fill="#d07060" stroke="#d07060" font-weight="normal" text-anchor="middle" opacity="1.0">aaepppd</text><text x="70.0" y="233.1" font-size="2.8" fill="#d07060" stroke="#d07060" font-weight="bold" text-anchor="middle" opacity="1.0">zpirufe</text><text x="70.0" y="235.9" font-size="2.8" fill="#d07060" stroke="#d07060" font-weight="normal" text-anchor="middle" opacity="1.0">rrsgmo</text><text x="70.0" y="238.7" font-size="2.8" fill="#d07060" stroke="#d07060" font-weight="normal" text-anchor="middle" opacity="1.0">gkpudzx</text><text x="70.0" y="241.5" font-size="2.8" fill="#d07060" stroke="#d07060" font-weight="normal" text-anchor="middle" opacity="1.0">krakixrw</text><text x="70.0" y="244.3" font-size="2.8" fill="#d07060" stroke="#d07060" font-weight="normal" text-anchor="middle" opacity="1.0">cmmfm</text><text x="70.0" y="247.1" font-size="2.8" fill="#d07060" stroke="#d07060" font-weight="normal" text-anchor="middle" opacity="1.0">pezzf</text><text x="86.2" y="226.2" font-size="2.9" fill="#5a8a2a" stroke="#5a8a2a" font-weight="normal" text-anchor="middle" opacity="1.0">dupwk</text><text x="86.2" y="229.4" font-size="2.9" fill="#5a8a2a" stroke="#5a8a2a" font-weight="bold" text-anchor="middle" opacity="1.0">udhsh</text><text x="86.2" y="232.6" font-size="2.9" fill="#5a8a2a" stroke="#5a8a2a" font-weight="normal" text-anchor="middle" opacity="1.0">bstae</text><text x="86.2" y="235.8" font-size="2.9" fill="#5a8a2a" stroke="#5a8a2a" font-weight="normal" text-anchor="middle" opacity="1.0">kfbgf</text><text x="86.2" y="239.0" font-size="2.9" fill="#5a8a2a" stroke="#5a8a2a" font-weight="normal" text-anchor="middle" opacity="1.0">zgazf</text><text x="86.2" y="242.2" font-size="2.9" fill="#5a8a2a" stroke="#5a8a2a" font-weight="bold" text-anchor="middle" opacity="1.0">fclo</text><text x="99.7" y="224.1" font-size="2.8" fill="#e0d478" stroke="#e0d478" font-weight="normal" text-anchor="middle" opacity="1.0">phgnz</text><text x="99.7" y="227.1" font-size="2.8" fill="#e0d478" stroke="#e0d478" font-weight="normal" text-anchor="middle" opacity="1.0">gwemnnx</text><text x="99.7" y="230.1" font-size="2.8" fill="#e0d478" stroke="#e0d478" font-weight="normal" text-anchor="middle" opacity="1.0">txhsfng</text><text x="99.7" y="233.1" font-size="2.8" fill="#e0d478" stroke="#e0d478" font-weight="normal" text-anchor="middle" opacity="1.0">epact</text><text x="99.7" y="236.1" font-size="2.8" fill="#e0d478" stroke="#e0d478" font-weight="normal" text-anchor="middle" opacity="1.0">fstasip</text><text x="99.7" y="239.1" font-size="2.8" fill="#e0d478" stroke="#e0d478" font-weight="normal" text-anchor="middle" opacity="1.0">rzcmo</text><text x="99.7" y="242.1" font-size="2.8" fill="#e0d478" stroke="#e0d478" font-weight="normal" text-anchor="middle" opacity="1.0">zkisuur</text><text x="99.7" y="245.1" font-size="2.8" fill="#e0d478" stroke="#e0d478" font-weight="normal" text-anchor="middle" opacity="1.0">bwfko</text><text x="113.0" y="218.6" font-size="2.8" fill="#4a5ab0" stroke="#4a5ab0" font-weight="normal" text-anchor="middle" opacity="1.0">gzdm</text><text x="113.0" y="221.3" font-size="2.8" fill="#4a5ab0" stroke="#4a5ab0" font-weight="normal" text-anchor="middle" opacity="1.0">htehc</text><text x="113.0" y="224.1" font-size="2.8" fill="#4a5ab0" stroke="#4a5ab0" font-weight="normal" text-anchor="middle" opacity="1.0">ioafe</text><text x="113.0" y="226.8" font-size="2.8" fill="#4a5ab0" stroke="#4a5ab0" font-weight="bold" text-anchor="middle" opacity="1.0">anilm</text><text x="113.0" y="229.6" font-size="2.8" fill="#4a5ab0" stroke="#4a5ab0" font-weight="normal" text-anchor="middle" opacity="1.0">hfxbng</text><text x="113.0" y="232.3" font-size="2.8" fill="#4a5ab0" stroke="#4a5ab0" font-weight="normal" text-anchor="middle" opacity="1.0">tnop</text><text x="113.0" y="235.1" font-size="2.8" fill="#4a5ab0" stroke="#4a5ab0" font-weight="normal" text-anchor="middle" opacity="1.0">dalx</text><text x="113.0" y="237.8" font-size="2.8" fill="#4a5ab0" stroke="#4a5ab0" font-weight="bold" text-anchor="middle" opacity="1.0">kmszez</text><text x="113.0" y="240.6" font-size="2.8" fill="#4a5ab0" stroke="#4a5ab0" font-weight="normal" text-anchor="middle" opacity="1.0">eikw</text><text x="113.0" y="243.3" font-size="2.8" fill="#4a5ab0" stroke="#4a5ab0" font-weight="normal" text-anchor="middle" opacity="1.0">orlenr</text><text x="113.0" y="246.1" font-size="2.8" fill="#4a5ab0" stroke="#4a5ab0" font-weight="bold" text-anchor="middle" opacity="1.0">axdlug</text><text x="113.0" y="248.8" font-size="2.8" fill="#4a5ab0" stroke="#4a5ab0" font-weight="normal" text-anchor="middle" opacity="1.0">tnmb</text><text x="999.0" y="220.1" font-size="2.7600000000000002" fill="#c0503e" stroke="#c0503e" font-weight="normal" text-anchor="middle" opacity="0.8">fpeirz</text><text x="999.0" y="223.4" font-size="2.7600000000000002" fill="#c0503e" stroke="#c0503e" font-weight="normal" text-anchor="middle" opacity="0.8">dcmzmcs</text><text x="999.0" y="226.7" font-size="2.7600000000000002" fill="#c0503e" stroke="#c0503e" font-weight="normal" text-anchor="middle" opacity="0.8">ibunt</text><text x="999.0" y="230.0" font-size="2.7600000000000002" fill="#c0503e" stroke="#c0503e" font-weight="normal" text-anchor="middle" opacity="0.8">edbtdnfi</text><text x="999.0" y="233.3" font-size="2.7600000000000002" fill="#c0503e" stroke="#c0503e" font-weight="normal" text-anchor="middle" opacity="0.8">kgpbxh</text><text x="999.0" y="236.6" font-size="2.7600000000000002" fill="#c0503e" stroke="#c0503e" font-weight="normal" text-anchor="middle" opacity="0.8">uzazz</text><text x="999.0" y="239.9" font-size="2.7600000000000002" fill="#c0503e" stroke="#c0503e" font-weight="normal" text-anchor="middle" opacity="0.8">twoodmb</text><text x="999.0" y="243.2" font-size="2.7600000000000002" fill="#c0503e" stroke="#c0503e" font-weight="normal" text-anchor="middle" opacity="0.8">uphtgki</text><text x="999.0" y="246.5" font-size="2.7600000000000002" fill="#c0503e" stroke="#c0503e" font-weight="normal" text-anchor="middle" opacity="0.8">ocnfoc</text><text x="999.0" y="249.8" font-size="2.7600000000000002" fill="#c0503e" stroke="#c0503e" font-weight="normal" text-anchor="middle" opacity="0.8">ppltx</text><text x="142.6" y="233.5" font-size="2.576" fill="#9a9a9a" stroke="#9a9a9a" font-weight="normal" text-anchor="middle" opacity="0.8">soimpiu</text><text x="154.7" y="228.7" font-size="2.576" fill="#555" stroke="#555" font-weight="normal" text-anchor="middle" opacity="0.8">ocawttai</text><text x="154.7" y="231.7" font-size="2.576" fill="#555" stroke="#555" font-weight="normal" text-anchor="middle" opacity="0.8">lhhwme</text><text x="154.7" y="234.7" font-size="2.576" fill="#555" stroke="#555" font-weight="normal" text-anchor="middle" opacity="0.8">kkpez</text><text x="154.7" y="237.7" font-size="2.576" fill="#555" stroke="#555" font-weight="normal" text-anchor="middle" opacity="0.8">pgwlliff</text><text x="154.7" y="240.7" font-size="2.576" fill="#555" stroke="#555" font-weight="normal" text-anchor="middle" opacity="0.8">zpmz</text><text x="154.7" y="243.7" font-size="2.576" fill="#555" stroke="#555" font-weight="normal" text-anchor="middle" opacity="0.8">mnwf</text><text x="10.0" y="257.1" font-size="2.7600000000000002" fill="#c0503e" stroke="#c0503e" font-weight="normal" text-anchor="middle" opacity="0.8">rmwoh</text><text x="10.0" y="260.3" font-size="2.7600000000000002" fill="#c0503e" stroke="#c0503e" font-weight="normal" text-anchor="middle" opacity="0.8">tfhmm</text><text x="10.0" y="263.5" font-size="2.7600000000000002" fill="#c0503e" stroke="#c0503e" font-weight="normal" text-anchor="middle" opacity="0.8">ubtea</text><text x="10.0" y="266.7" font-size="2.7600000000000002" fill="#c0503e" stroke="#c0503e" font-weight="normal" text-anchor="middle" opacity="0.8">pnlf</text><text x="20.5" y="259.1" font-size="2.7600000000000002" fill="#5d8a2a" stroke="#5d8a2a" font-weight="normal" text-anchor="middle" opacity="0.8">wgabl</text><text x="20.5" y="262.3" font-size="2.7600000000000002" fill="#5d8a2a" stroke="#5d8a2a" font-weight="normal" text-anchor="middle" opacity="0.8">srgelr</text><text x="20.5" y="265.5" font-size="2.7600000000000002" fill="#5d8a2a" stroke="#5d8a2a" font-weight="normal" text-anchor="middle" opacity="0.8">zgunaw</text><text x="31.0" y="254.1" font-size="2.7600000000000002" fill="#e6dc8a" stroke="#e6dc8a" font-weight="normal" text-anchor="middle" opacity="0.8">hfbnoih</text><text x="31.0" y="257.3" font-size="2.7600000000000002" fill="#e6dc8a" stroke="#e6dc8a" font-weight="normal" text-anchor="middle" opacity="0.8">mnsf</text><text x="31.0" y="260.5" font-size="2.7600000000000002" fill="#e6dc8a" stroke="#e6dc8a" font-weight="normal" text-anchor="middle" opacity="0.8">smmg</text><text x="31.0" y="263.7" font-size="2.7600000000000002" fill="#e6dc8a" stroke="#e6dc8a" font-weight="normal" text-anchor="middle" opacity="0.8">hodfcix</text><text x="31.0" y="266.9" font-size="2.7600000000000002" fill="#e6dc8a" stroke="#e6dc8a" font-weight="normal" text-anchor="middle" opacity="0.8">wooh</text><text x="44.5" y="257.1" font-size="2.7600000000000002" fill="#3a52a8" stroke="#3a52a8" font-weight="normal" text-anchor="middle" opacity="0.8">amtcoz</text><text x="44.5" y="260.3" font-size="2.7600000000000002" fill="#3a52a8" stroke="#3a52a8" font-weight="normal" text-anchor="middle" opacity="0.8">zcpxw</text><text x="44.5" y="263.5" font-size="2.7600000000000002" fill="#3a52a8" stroke="#3a52a8" font-weight="normal" text-anchor="middle" opacity="0.8">kbgphtom</text><text x="44.5" y="266.7" font-size="2.7600000000000002" fill="#3a52a8" stroke="#3a52a8" font-weight="normal" text-anchor="middle" opacity="0.8">dnwpts</text><text x="56.0" y="257.1" font-size="2.7600000000000002" fill="#555" stroke="#555" font-weight="normal" text-anchor="middle" opacity="0.8">nskawix</text><text x="56.0" y="260.3" font-size="2.7600000000000002" fill="#555" stroke="#555" font-weight="normal" text-anchor="middle" opacity="0.8">uearhcz</text><text x="56.0" y="263.5" font-size="2.7600000000000002" fill="#555" stroke="#555" font-weight="normal" text-anchor="middle" opacity="0.8">bexcdg</text><text x="56.0" y="266.7" font-size="2.7600000000000002" fill="#555" stroke="#555" font-weight="normal" text-anchor="middle" opacity="0.8">etgdz</text><text x="67.0" y="260.1" font-size="2.7600000000000002" fill="#9a9a9a" stroke="#9a9a9a" font-weight="normal" text-anchor="middle" opacity="0.8">xlghci</text><text x="78.5" y="259.1" font-size="2.7600000000000002" fill="#444" stroke="#444" font-weight="normal" text-anchor="middle" opacity="0.8">gokm</text><text x="78.5" y="262.3" font-size="2.7600000000000002" fill="#444" stroke="#444" font-weight="normal" text-anchor="middle" opacity="0.8">fgnhd</text><text x="78.5" y="265.5" font-size="2.7600000000000002" fill="#444" stroke="#444" font-weight="normal" text-anchor="middle" opacity="0.8">apxzxgx</text><text x="90.5" y="254.1" font-size="2.7600000000000002" fill="#c0503e" stroke="#c0503e" font-weight="normal" text-anchor="middle" opacity="0.8">nwdmgg</text><text x="90.5" y="257.3" font-size="2.7600000000000002" fill="#c0503e" stroke="#c0503e" font-weight="normal" text-anchor="middle" opacity="0.8">ezgsd</text><text x="90.5" y="260.5" font-size="2.7600000000000002" fill="#c0503e" stroke="#c0503e" font-weight="normal" text-anchor="middle" opacity="0.8">bonwx</text><text x="90.5" y="263.7" font-size="2.7600000000000002" fill="#c0503e" stroke="#c0503e" font-weight="normal" text-anchor="middle" opacity="0.8">dmzxd</text><text x="90.5" y="266.9" font-size="2.7600000000000002" fill="#c0503e" stroke="#c0503e" font-weight="normal" text-anchor="middle" opacity="0.8">nfoh</text><text x="100.0" y="257.1" font-size="2.7600000000000002" fill="#5d8a2a" stroke="#5d8a2a" font-weight="normal" text-anchor="middle" opacity="0.8">kkwaz</text><text x="100.0" y="260.3" font-size="2.7600000000000002" fill="#5d8a2a" stroke="#5d8a2a" font-weight="normal" text-anchor="middle" opacity="0.8">ghgp</text><text x="100.0" y="263.5" font-size="2.7600000000000002" fill="#5d8a2a" stroke="#5d8a2a" font-weight="normal" text-anchor="middle" opacity="0.8">tetd</text><text x="111.2" y="255.1" font-size="2.7600000000000002" fill="#e6dc8a" stroke="#e6dc8a" font-weight="normal" text-anchor="middle" opacity="0.8">ssxd</text><text x="111.2" y="258.3" font-size="2.7600000000000002" fill="#e6dc8a" stroke="#e6dc8a" font-weight="normal" text-anchor="middle" opacity="0.8">gfocrm</text><text x="111.2" y="261.5" font-size="2.7600000000000002" fill="#e6dc8a" stroke="#e6dc8a" font-weight="normal" text-anchor="middle" opacity="0.8">subgox</text><text x="111.2" y="264.7" font-size="2.7600000000000002" fill="#e6dc8a" stroke="#e6dc8a" font-weight="normal" text-anchor="middle" opacity="0.8">hhfsi</text><text x="111.2" y="267.9" font-size="2.7600000000000002" fill="#e6dc8a" stroke="#e6dc8a" font-weight="normal" text-anchor="middle" opacity="0.8">shdnbn</text><text x="123.6" y="260.5" font-size="2.576" fill="#3a52a8" stroke="#3a52a8" font-weight="normal" text-anchor="middle" opacity="0.8">kthaizsh</text><text x="123.6" y="263.5" font-size="2.576" fill="#3a52a8" stroke="#3a52a8" font-weight="normal" text-anchor="middle" opacity="0.8">iadphkum</text><text x="149.0" y="259.9" font-size="2.576" fill="#9a9a9a" stroke="#9a9a9a" font-weight="normal" text-anchor="middle" opacity="0.8">fndbtg</text><text x="149.0" y="262.9" font-size="2.576" fill="#9a9a9a" stroke="#9a9a9a" font-weight="normal" text-anchor="middle" opacity="0.8">idxzaw</text><text x="149.0" y="265.9" font-size="2.576" fill="#9a9a9a" stroke="#9a9a9a" font-weight="normal" text-anchor="middle" opacity="0.8">mrtudu</text><text x="6.2" y="280.1" font-size="2.7600000000000002" fill="#1e1e1e" stroke="#1e1e1e" font-weight="normal" text-anchor="middle" opacity="0.8">algnkp</text><text x="6.2" y="283.3" font-size="2.7600000000000002" fill="#1e1e1e" stroke="#1e1e1e" font-weight="normal" text-anchor="middle" opacity="0.8">emfrzx</text><text x="15.2" y="279.1" font-size="2.7600000000000002" fill="#d07050" stroke="#d07050" font-weight="normal" text-anchor="middle" opacity="0.8">fkxb</text><text x="15.2" y="282.3" font-size="2.7600000000000002" fill="#d07050" stroke="#d07050" font-weight="normal" text-anchor="middle" opacity="0.8">brnww</text><text x="27.0" y="277.2" font-size="2.9440000000000004" fill="#5d8a2a" stroke="#5d8a2a" font-weight="normal" text-anchor="middle" opacity="0.8">isuzag</text><text x="27.0" y="280.5" font-size="2.9440000000000004" fill="#5d8a2a" stroke="#5d8a2a" font-weight="normal" text-anchor="middle" opacity="0.8">ztkwin</text><text x="27.0" y="283.8" font-size="2.9440000000000004" fill="#5d8a2a" stroke="#5d8a2a" font-weight="normal" text-anchor="middle" opacity="0.8">becd</text><text x="27.0" y="287.1" font-size="2.9440000000000004" fill="#5d8a2a" stroke="#5d8a2a" font-weight="normal" text-anchor="middle" opacity="0.8">tlse</text><text x="38.5" y="279.1" font-size="2.7600000000000002" fill="#e6dc8a" stroke="#e6dc8a" font-weight="normal" text-anchor="middle" opacity="0.8">bbarmkl</text><text x="38.5" y="282.3" font-size="2.7600000000000002" fill="#e6dc8a" stroke="#e6dc8a" font-weight="normal" text-anchor="middle" opacity="0.8">ewonplh</text><text x="38.5" y="285.5" font-size="2.7600000000000002" fill="#e6dc8a" stroke="#e6dc8a" font-weight="normal" text-anchor="middle" opacity="0.8">ztnocdtw</text><text x="50.5" y="279.1" font-size="2.7600000000000002" fill="#3a52a8" stroke="#3a52a8" font-weight="normal" text-anchor="middle" opacity="0.8">kkadtez</text><text x="50.5" y="282.3" font-size="2.7600000000000002" fill="#3a52a8" stroke="#3a52a8" font-weight="normal" text-anchor="middle" opacity="0.8">zpocwxl</text><text x="63.0" y="280.1" font-size="2.7600000000000002" fill="#9a9a9a" stroke="#9a9a9a" font-weight="normal" text-anchor="middle" opacity="0.8">dbzxh</text><text x="63.0" y="283.3" font-size="2.7600000000000002" fill="#9a9a9a" stroke="#9a9a9a" font-weight="normal" text-anchor="middle" opacity="0.8">nnhf</text><text x="72.0" y="279.1" font-size="2.7600000000000002" fill="#9a9a9a" stroke="#9a9a9a" font-weight="normal" text-anchor="middle" opacity="0.8">sknmen</text><text x="72.0" y="282.3" font-size="2.7600000000000002" fill="#9a9a9a" stroke="#9a9a9a" font-weight="normal" text-anchor="middle" opacity="0.8">kiuci</text><text x="72.0" y="285.5" font-size="2.7600000000000002" fill="#9a9a9a" stroke="#9a9a9a" font-weight="normal" text-anchor="middle" opacity="0.8">lipip</text><text x="81.5" y="279.1" font-size="2.7600000000000002" fill="#1e1e1e" stroke="#1e1e1e" font-weight="normal" text-anchor="middle" opacity="0.8">cpbala</text><text x="81.5" y="282.3" font-size="2.7600000000000002" fill="#1e1e1e" stroke="#1e1e1e" font-weight="normal" text-anchor="middle" opacity="0.8">trtf</text><text x="81.5" y="285.5" font-size="2.7600000000000002" fill="#1e1e1e" stroke="#1e1e1e" font-weight="normal" text-anchor="middle" opacity="0.8">cftwo</text><text x="115.0" y="279.1" font-size="2.7600000000000002" fill="#5d8a2a" stroke="#5d8a2a" font-weight="normal" text-anchor="middle" opacity="0.8">nacb</text><text x="115.0" y="282.3" font-size="2.7600000000000002" fill="#5d8a2a" stroke="#5d8a2a" font-weight="normal" text-anchor="middle" opacity="0.8">ptmk</text><text x="115.0" y="285.5" font-size="2.7600000000000002" fill="#5d8a2a" stroke="#5d8a2a" font-weight="normal" text-anchor="middle" opacity="0.8">kisg</text><text x="125.0" y="277.1" font-size="2.7600000000000002" fill="#e6dc8a" stroke="#e6dc8a" font-weight="normal" text-anchor="middle" opacity="0.8">zwkbak</text><text x="125.0" y="280.3" font-size="2.7600000000000002" fill="#e6dc8a" stroke="#e6dc8a" font-weight="normal" text-anchor="middle" opacity="0.8">ktktn</text><text x="125.0" y="283.5" font-size="2.7600000000000002" fill="#e6dc8a" stroke="#e6dc8a" font-weight="normal" text-anchor="middle" opacity="0.8">gtrkip</text><text x="125.0" y="286.7" font-size="2.7600000000000002" fill="#e6dc8a" stroke="#e6dc8a" font-weight="normal" text-anchor="middle" opacity="0.8">neupoc</text><text x="134.5" y="281.1" font-size="2.7600000000000002" fill="#9a9a9a" stroke="#9a9a9a" font-weight="normal" text-anchor="middle" opacity="0.8">spzw</text><text x="142.3" y="281.1" font-size="2.7600000000000002" fill="#1e1e1e" stroke="#1e1e1e" font-weight="normal" text-anchor="middle" opacity="0.8">dssih</text><text x="7.7" y="293.3" font-size="3.128" fill="#1e1e1e" stroke="#1e1e1e" font-weight="normal" text-anchor="middle" opacity="0.8">gbam</text><text x="7.7" y="296.7" font-size="3.128" fill="#1e1e1e" stroke="#1e1e1e" font-weight="normal" text-anchor="middle" opacity="0.8">szrg</text><text x="7.7" y="300.1" font-size="3.128" fill="#1e1e1e" stroke="#1e1e1e" font-weight="normal" text-anchor="middle" opacity="0.8">zecafb</text><text x="17.6" y="293.3" font-size="3.128" fill="#c0503e" stroke="#c0503e" font-weight="normal" text-anchor="middle" opacity="0.8">tlof</text><text x="17.6" y="296.7" font-size="3.128" fill="#c0503e" stroke="#c0503e" font-weight="normal" text-anchor="middle" opacity="0.8">nsxcdx</text><text x="17.6" y="300.1" font-size="3.128" fill="#c0503e" stroke="#c0503e" font-weight="normal" text-anchor="middle" opacity="0.8">dimfrk</text><text x="29.0" y="293.2" font-size="2.9440000000000004" fill="#5d8a2a" stroke="#5d8a2a" font-weight="normal" text-anchor="middle" opacity="0.8">hzlezc</text><text x="29.0" y="296.6" font-size="2.9440000000000004" fill="#5d8a2a" stroke="#5d8a2a" font-weight="normal" text-anchor="middle" opacity="0.8">oelr</text><text x="29.0" y="300.0" font-size="2.9440000000000004" fill="#5d8a2a" stroke="#5d8a2a" font-weight="normal" text-anchor="middle" opacity="0.8">zwwox</text><text x="38.5" y="296.1" font-size="2.7600000000000002" fill="#9a9a9a" stroke="#9a9a9a" font-weight="normal" text-anchor="middle" opacity="0.8">pwbwnwb</text><text x="46.8" y="297.1" font-size="2.7600000000000002" fill="#9a9a9a" stroke="#9a9a9a" font-weight="normal" text-anchor="middle" opacity="0.8">rpro</text><text x="56.8" y="297.1" font-size="2.7600000000000002" fill="#c4c4c4" stroke="#c4c4c4" font-weight="normal" text-anchor="middle" opacity="0.8">namnzgoz</text><text x="67.7" y="294.1" font-size="2.7600000000000002" fill="#1e1e1e" stroke="#1e1e1e" font-weight="normal" text-anchor="middle" opacity="0.8">cgxmts</text><text x="67.7" y="297.3" font-size="2.7600000000000002" fill="#1e1e1e" stroke="#1e1e1e" font-weight="normal" text-anchor="middle" opacity="0.8">crrs</text><text x="77.7" y="294.1" font-size="2.7600000000000002" fill="#c0503e" stroke="#c0503e" font-weight="normal" text-anchor="middle" opacity="0.8">nrxkz</text><text x="77.7" y="297.3" font-size="2.7600000000000002" fill="#c0503e" stroke="#c0503e" font-weight="normal" text-anchor="middle" opacity="0.8">acrkw</text><text x="90.0" y="292.1" font-size="2.7600000000000002" fill="#5d8a2a" stroke="#5d8a2a" font-weight="normal" text-anchor="middle" opacity="0.8">hogecee</text><text x="90.0" y="295.3" font-size="2.7600000000000002" fill="#5d8a2a" stroke="#5d8a2a" font-weight="normal" text-anchor="middle" opacity="0.8">tsptnbhu</text><text x="90.0" y="298.5" font-size="2.7600000000000002" fill="#5d8a2a" stroke="#5d8a2a" font-weight="normal" text-anchor="middle" opacity="0.8">sxbpz</text><text x="90.0" y="301.7" font-size="2.7600000000000002" fill="#5d8a2a" stroke="#5d8a2a" font-weight="normal" text-anchor="middle" opacity="0.8">udnrffd</text><text x="103.0" y="294.1" font-size="2.7600000000000002" fill="#e6dc8a" stroke="#e6dc8a" font-weight="normal" text-anchor="middle" opacity="0.8">uoohno</text><text x="103.0" y="297.3" font-size="2.7600000000000002" fill="#e6dc8a" stroke="#e6dc8a" font-weight="normal" text-anchor="middle" opacity="0.8">solrpi</text><text x="131.5" y="297.1" font-size="2.7600000000000002" fill="#c4c4c4" stroke="#c4c4c4" font-weight="normal" text-anchor="middle" opacity="0.8">msbwsb</text><text x="140.8" y="295.1" font-size="2.7600000000000002" fill="#1e1e1e" stroke="#1e1e1e" font-weight="normal" text-anchor="middle" opacity="0.8">nggp</text><text x="140.8" y="298.3" font-size="2.7600000000000002" fill="#1e1e1e" stroke="#1e1e1e" font-weight="normal" text-anchor="middle" opacity="0.8">ondsc</text><text x="151.5" y="294.1" font-size="2.7600000000000002" fill="#c0503e" stroke="#c0503e" font-weight="normal" text-anchor="middle" opacity="0.8">ehusdg</text><text x="151.5" y="297.3" font-size="2.7600000000000002" fill="#c0503e" stroke="#c0503e" font-weight="normal" text-anchor="middle" opacity="0.8">cwcdl</text><text x="151.5" y="300.5" font-size="2.7600000000000002" fill="#c0503e" stroke="#c0503e" font-weight="normal" text-anchor="middle" opacity="0.8">wlut</text><text x="37.0" y="307.1" font-size="2.7600000000000002" fill="#e6dc8a" stroke="#e6dc8a" font-weight="normal" text-anchor="middle" opacity="0.8">ktsfge</text><text x="37.0" y="310.3" font-size="2.7600000000000002" fill="#e6dc8a" stroke="#e6dc8a" font-weight="normal" text-anchor="middle" opacity="0.8">ebta</text><text x="46.0" y="307.1" font-size="2.7600000000000002" fill="#3a52a8" stroke="#3a52a8" font-weight="normal" text-anchor="middle" opacity="0.8">uzzrob</text><text x="46.0" y="310.3" font-size="2.7600000000000002" fill="#3a52a8" stroke="#3a52a8" font-weight="normal" text-anchor="middle" opacity="0.8">rtnptsr</text><text x="56.2" y="307.1" font-size="2.7600000000000002" fill="#1e1e1e" stroke="#1e1e1e" font-weight="normal" text-anchor="middle" opacity="0.8">msk</text><text x="56.2" y="310.3" font-size="2.7600000000000002" fill="#1e1e1e" stroke="#1e1e1e" font-weight="normal" text-anchor="middle" opacity="0.8">aek</text><text x="63.8" y="308.1" font-size="2.7600000000000002" fill="#9a9a9a" stroke="#9a9a9a" font-weight="normal" text-anchor="middle" opacity="0.8">ufc</text><text x="74.6" y="308.1" font-size="2.7600000000000002" fill="#1e1e1e" stroke="#1e1e1e" font-weight="normal" text-anchor="middle" opacity="0.8">xdcxesw</text><text x="74.6" y="311.1" font-size="2.7600000000000002" fill="#1e1e1e" stroke="#1e1e1e" font-weight="normal" text-anchor="middle" opacity="0.8">pczkw</text><text x="86.0" y="307.1" font-size="2.7600000000000002" fill="#c0503e" stroke="#c0503e" font-weight="normal" text-anchor="middle" opacity="0.8">pugatnt</text><text x="86.0" y="310.3" font-size="2.7600000000000002" fill="#c0503e" stroke="#c0503e" font-weight="normal" text-anchor="middle" opacity="0.8">rtnpuxl</text><text x="97.8" y="307.1" font-size="2.7600000000000002" fill="#5d8a2a" stroke="#5d8a2a" font-weight="normal" text-anchor="middle" opacity="0.8">fgxgo</text><text x="97.8" y="310.3" font-size="2.7600000000000002" fill="#5d8a2a" stroke="#5d8a2a" font-weight="normal" text-anchor="middle" opacity="0.8">perhd</text><text x="106.8" y="307.1" font-size="2.7600000000000002" fill="#e6dc8a" stroke="#e6dc8a" font-weight="normal" text-anchor="middle" opacity="0.8">txrim</text><text x="106.8" y="310.3" font-size="2.7600000000000002" fill="#e6dc8a" stroke="#e6dc8a" font-weight="normal" text-anchor="middle" opacity="0.8">alrb</text><text x="115.2" y="307.1" font-size="2.7600000000000002" fill="#3a52a8" stroke="#3a52a8" font-weight="normal" text-anchor="middle" opacity="0.8">ckee</text><text x="115.2" y="310.3" font-size="2.7600000000000002" fill="#3a52a8" stroke="#3a52a8" font-weight="normal" text-anchor="middle" opacity="0.8">pxhop</text><text x="124.6" y="309.1" font-size="2.7600000000000002" fill="#9a9a9a" stroke="#9a9a9a" font-weight="normal" text-anchor="middle" opacity="0.8">nflrd</text><text x="134.0" y="308.1" font-size="2.7600000000000002" fill="#1e1e1e" stroke="#1e1e1e" font-weight="normal" text-anchor="middle" opacity="0.8">hwsuie</text><text x="134.0" y="311.3" font-size="2.7600000000000002" fill="#1e1e1e" stroke="#1e1e1e" font-weight="normal" text-anchor="middle" opacity="0.8">xoorir</text><text x="143.0" y="308.1" font-size="2.7600000000000002" fill="#c0503e" stroke="#c0503e" font-weight="normal" text-anchor="middle" opacity="0.8">zgzc</text><text x="143.0" y="311.3" font-size="2.7600000000000002" fill="#c0503e" stroke="#c0503e" font-weight="normal" text-anchor="middle" opacity="0.8">pcas</text><text x="153.0" y="308.1" font-size="2.7600000000000002" fill="#5d8a2a" stroke="#5d8a2a" font-weight="normal" text-anchor="middle" opacity="0.8">czcpe</text><text x="153.0" y="311.3" font-size="2.7600000000000002" fill="#5d8a2a" stroke="#5d8a2a" font-weight="normal" text-anchor="middle" opacity="0.8">odkg</text></g>
<text x="1" y="9.7" font-size="11.7" font-weight="bold" fill="#111">A</text>
<text x="240.6" y="9.8" font-size="11.7" font-weight="bold" fill="#111">B</text>
<text x="0.3" y="183.6" font-size="11.7" font-weight="bold" fill="#111">C, D</text>
</svg>

<div style="position:absolute;left:428.6px;top:192.4px;font-size:11.5px;letter-spacing:0.18px;color:#111;">Network legend</div>
<div style="position:absolute;left:422px;top:206.5px;width:94px;height:149.5px;border:1px solid #444"></div>
<div style="position:absolute;left:439px;top:211.6px;font-size:8px;color:#111">A</div>
<div style="position:absolute;left:449.5px;top:211.6px;font-size:8px;color:#111">Methylation</div>
<div style="position:absolute;left:441.2px;top:224px;font-size:6.5px;color:#334">0</div>
<div style="position:absolute;left:446px;top:223.6px;width:42.4px;height:8.2px;background:linear-gradient(90deg,#f0ec20 0%,#ece850 25%,#d4d4e4 52%,#c070cc 78%,#c020b8 100%)"></div>
<div style="position:absolute;left:491.5px;top:224px;font-size:6.5px;color:#223">1</div>
<div style="position:absolute;left:439px;top:241.5px;font-size:8px;color:#111">B</div>
<div style="position:absolute;left:449.5px;top:241.5px;font-size:8px;color:#111">GEP</div>
<div style="position:absolute;left:438.5px;top:254.5px;font-size:6.5px;color:#111">-3</div>
<div style="position:absolute;left:446.4px;top:253.2px;width:42px;height:8.3px;background:linear-gradient(90deg,#2f7a2f 0%,#6aa86a 25%,#d6d6e6 50%,#d87070 75%,#d02818 100%)"></div>
<div style="position:absolute;left:489.5px;top:254.5px;font-size:6.5px;color:#111">+3</div>
<div style="position:absolute;left:439px;top:270.6px;font-size:8px;color:#111">C</div>
<div style="position:absolute;left:449px;top:270.6px;font-size:8px;color:#111">MCL Clustering</div>
<div style="position:absolute;left:449px;top:282.5px;font-size:7px;color:#222">Cluster 1</div><div style="position:absolute;left:479px;top:282px;width:8.5px;height:8px;background:#d8301c"></div><div style="position:absolute;left:449px;top:293.0px;font-size:7px;color:#222">Cluster 2</div><div style="position:absolute;left:479px;top:292.5px;width:8.5px;height:8px;background:#4a86e8"></div><div style="position:absolute;left:449px;top:303.2px;font-size:7px;color:#222">Cluster 3</div><div style="position:absolute;left:479px;top:302.7px;width:8.5px;height:8px;background:#62c040"></div><div style="position:absolute;left:449px;top:313.7px;font-size:7px;color:#222">Cluster 4</div><div style="position:absolute;left:479px;top:313.2px;width:8.5px;height:8px;background:#b030b8"></div><div style="position:absolute;left:449px;top:324.8px;font-size:7px;color:#222">Cluster 5</div><div style="position:absolute;left:479px;top:324.3px;width:8.5px;height:8px;background:#e07a22"></div><div style="position:absolute;left:439px;top:339.5px;font-size:8px;color:#111">D</div><div style="position:absolute;left:449px;top:339.5px;font-size:8px;color:#111">WordCloud</div>
</div></body></html>
